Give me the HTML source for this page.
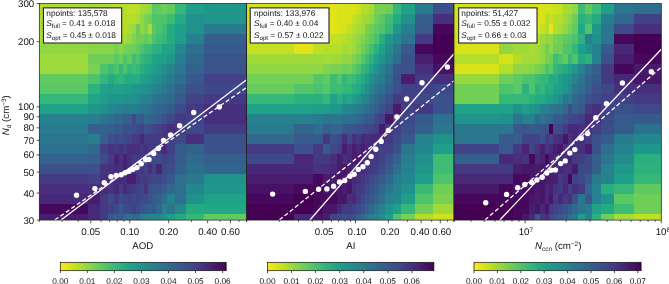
<!DOCTYPE html>
<html><head><meta charset="utf-8"><title>figure</title>
<style>html,body{margin:0;padding:0;background:#fff;overflow:hidden}svg{display:block}</style>
</head><body>
<svg width="669" height="284" viewBox="0 0 669 284" font-family="'Liberation Sans', sans-serif" font-size="9.7" fill="#111" text-rendering="geometricPrecision">
<defs><linearGradient id="vg" x1="0" x2="1" y1="0" y2="0">
<stop offset="0.00" stop-color="#fde725"/>
<stop offset="0.05" stop-color="#dfe318"/>
<stop offset="0.10" stop-color="#bddf26"/>
<stop offset="0.15" stop-color="#9bd93c"/>
<stop offset="0.20" stop-color="#7ad151"/>
<stop offset="0.25" stop-color="#5ec962"/>
<stop offset="0.30" stop-color="#44bf70"/>
<stop offset="0.35" stop-color="#2fb47c"/>
<stop offset="0.40" stop-color="#22a884"/>
<stop offset="0.45" stop-color="#1e9c89"/>
<stop offset="0.50" stop-color="#21918c"/>
<stop offset="0.55" stop-color="#25848e"/>
<stop offset="0.60" stop-color="#2a788e"/>
<stop offset="0.65" stop-color="#2f6c8e"/>
<stop offset="0.70" stop-color="#355f8d"/>
<stop offset="0.75" stop-color="#3b528b"/>
<stop offset="0.80" stop-color="#414487"/>
<stop offset="0.85" stop-color="#463480"/>
<stop offset="0.90" stop-color="#482475"/>
<stop offset="0.95" stop-color="#471365"/>
<stop offset="1.00" stop-color="#440154"/>
</linearGradient>
<clipPath id="cp0"><rect x="39.3" y="3.5" width="207.30" height="216.6"/></clipPath>
<clipPath id="cp1"><rect x="246.6" y="3.5" width="207.40" height="216.6"/></clipPath>
<clipPath id="cp2"><rect x="454.0" y="3.5" width="207.30" height="216.6"/></clipPath>
</defs>
<rect width="669" height="284" fill="#fff"/>
<g shape-rendering="crispEdges" clip-path="url(#cp0)"><rect x="39.3" y="3.3" width="48.5" height="10.8" fill="#addc30"/><rect x="87.5" y="3.3" width="12.8" height="10.8" fill="#a5db36"/><rect x="100" y="3.3" width="8.2" height="10.8" fill="#addc30"/><rect x="107.9" y="3.3" width="6.8" height="10.8" fill="#b5de2b"/><rect x="114.4" y="3.3" width="4.8" height="10.8" fill="#b5de2b"/><rect x="118.9" y="3.3" width="4.7" height="10.8" fill="#b5de2b"/><rect x="123.3" y="3.3" width="4.4" height="10.8" fill="#b5de2b"/><rect x="127.4" y="3.3" width="4.6" height="10.8" fill="#bddf26"/><rect x="131.7" y="3.3" width="4.5" height="10.8" fill="#bddf26"/><rect x="135.9" y="3.3" width="4.2" height="10.8" fill="#bddf26"/><rect x="139.8" y="3.3" width="4.3" height="10.8" fill="#a5db36"/><rect x="143.8" y="3.3" width="4.1" height="10.8" fill="#a0da39"/><rect x="147.6" y="3.3" width="4.4" height="10.8" fill="#90d743"/><rect x="151.7" y="3.3" width="5" height="10.8" fill="#5ac864"/><rect x="156.4" y="3.3" width="5.5" height="10.8" fill="#60ca60"/><rect x="161.6" y="3.3" width="6" height="10.8" fill="#6ece58"/><rect x="167.3" y="3.3" width="7.7" height="10.8" fill="#60ca60"/><rect x="174.7" y="3.3" width="11.6" height="10.8" fill="#35b779"/><rect x="186" y="3.3" width="18.6" height="10.8" fill="#1f9e89"/><rect x="204.3" y="3.3" width="42.6" height="10.8" fill="#1f988b"/><rect x="39.3" y="13.8" width="48.5" height="10.3" fill="#addc30"/><rect x="87.5" y="13.8" width="12.8" height="10.3" fill="#a5db36"/><rect x="100" y="13.8" width="8.2" height="10.3" fill="#addc30"/><rect x="107.9" y="13.8" width="6.8" height="10.3" fill="#b5de2b"/><rect x="114.4" y="13.8" width="4.8" height="10.3" fill="#b5de2b"/><rect x="118.9" y="13.8" width="4.7" height="10.3" fill="#b5de2b"/><rect x="123.3" y="13.8" width="4.4" height="10.3" fill="#b5de2b"/><rect x="127.4" y="13.8" width="4.6" height="10.3" fill="#b5de2b"/><rect x="131.7" y="13.8" width="4.5" height="10.3" fill="#b5de2b"/><rect x="135.9" y="13.8" width="4.2" height="10.3" fill="#addc30"/><rect x="139.8" y="13.8" width="4.3" height="10.3" fill="#90d743"/><rect x="143.8" y="13.8" width="4.1" height="10.3" fill="#7ad151"/><rect x="147.6" y="13.8" width="4.4" height="10.3" fill="#6ece58"/><rect x="151.7" y="13.8" width="5" height="10.3" fill="#4ec36b"/><rect x="156.4" y="13.8" width="5.5" height="10.3" fill="#4ec36b"/><rect x="161.6" y="13.8" width="6" height="10.3" fill="#4ec36b"/><rect x="167.3" y="13.8" width="7.7" height="10.3" fill="#3fbc73"/><rect x="174.7" y="13.8" width="11.6" height="10.3" fill="#25ab82"/><rect x="186" y="13.8" width="18.6" height="10.3" fill="#21918c"/><rect x="204.3" y="13.8" width="42.6" height="10.3" fill="#1f958b"/><rect x="39.3" y="23.8" width="48.5" height="10.3" fill="#addc30"/><rect x="87.5" y="23.8" width="12.8" height="10.3" fill="#a5db36"/><rect x="100" y="23.8" width="8.2" height="10.3" fill="#a5db36"/><rect x="107.9" y="23.8" width="6.8" height="10.3" fill="#addc30"/><rect x="114.4" y="23.8" width="4.8" height="10.3" fill="#addc30"/><rect x="118.9" y="23.8" width="4.7" height="10.3" fill="#b5de2b"/><rect x="123.3" y="23.8" width="4.4" height="10.3" fill="#b5de2b"/><rect x="127.4" y="23.8" width="4.6" height="10.3" fill="#a5db36"/><rect x="131.7" y="23.8" width="4.5" height="10.3" fill="#98d83e"/><rect x="135.9" y="23.8" width="4.2" height="10.3" fill="#67cc5c"/><rect x="139.8" y="23.8" width="4.3" height="10.3" fill="#90d743"/><rect x="143.8" y="23.8" width="4.1" height="10.3" fill="#7ad151"/><rect x="147.6" y="23.8" width="4.4" height="10.3" fill="#a5db36"/><rect x="151.7" y="23.8" width="5" height="10.3" fill="#5ac864"/><rect x="156.4" y="23.8" width="5.5" height="10.3" fill="#4ec36b"/><rect x="161.6" y="23.8" width="6" height="10.3" fill="#3fbc73"/><rect x="167.3" y="23.8" width="7.7" height="10.3" fill="#25ab82"/><rect x="174.7" y="23.8" width="11.6" height="10.3" fill="#1f9e89"/><rect x="186" y="23.8" width="18.6" height="10.3" fill="#21918c"/><rect x="204.3" y="23.8" width="42.6" height="10.3" fill="#297b8e"/><rect x="39.3" y="33.8" width="48.5" height="10.3" fill="#addc30"/><rect x="87.5" y="33.8" width="12.8" height="10.3" fill="#a0da39"/><rect x="100" y="33.8" width="8.2" height="10.3" fill="#a0da39"/><rect x="107.9" y="33.8" width="6.8" height="10.3" fill="#a5db36"/><rect x="114.4" y="33.8" width="4.8" height="10.3" fill="#a5db36"/><rect x="118.9" y="33.8" width="4.7" height="10.3" fill="#a5db36"/><rect x="123.3" y="33.8" width="4.4" height="10.3" fill="#a5db36"/><rect x="127.4" y="33.8" width="4.6" height="10.3" fill="#98d83e"/><rect x="131.7" y="33.8" width="4.5" height="10.3" fill="#81d34d"/><rect x="135.9" y="33.8" width="4.2" height="10.3" fill="#6ece58"/><rect x="139.8" y="33.8" width="4.3" height="10.3" fill="#6ece58"/><rect x="143.8" y="33.8" width="4.1" height="10.3" fill="#60ca60"/><rect x="147.6" y="33.8" width="4.4" height="10.3" fill="#6ece58"/><rect x="151.7" y="33.8" width="5" height="10.3" fill="#4ec36b"/><rect x="156.4" y="33.8" width="5.5" height="10.3" fill="#3fbc73"/><rect x="161.6" y="33.8" width="6" height="10.3" fill="#35b779"/><rect x="167.3" y="33.8" width="7.7" height="10.3" fill="#25ab82"/><rect x="174.7" y="33.8" width="11.6" height="10.3" fill="#1f9e89"/><rect x="186" y="33.8" width="18.6" height="10.3" fill="#26828e"/><rect x="204.3" y="33.8" width="42.6" height="10.3" fill="#355f8d"/><rect x="39.3" y="43.8" width="48.5" height="10.3" fill="#90d743"/><rect x="87.5" y="43.8" width="12.8" height="10.3" fill="#89d548"/><rect x="100" y="43.8" width="8.2" height="10.3" fill="#89d548"/><rect x="107.9" y="43.8" width="6.8" height="10.3" fill="#89d548"/><rect x="114.4" y="43.8" width="4.8" height="10.3" fill="#7ad151"/><rect x="118.9" y="43.8" width="4.7" height="10.3" fill="#89d548"/><rect x="123.3" y="43.8" width="4.4" height="10.3" fill="#7ad151"/><rect x="127.4" y="43.8" width="4.6" height="10.3" fill="#6ece58"/><rect x="131.7" y="43.8" width="4.5" height="10.3" fill="#6ece58"/><rect x="135.9" y="43.8" width="4.2" height="10.3" fill="#60ca60"/><rect x="139.8" y="43.8" width="4.3" height="10.3" fill="#4ec36b"/><rect x="143.8" y="43.8" width="4.1" height="10.3" fill="#3fbc73"/><rect x="147.6" y="43.8" width="4.4" height="10.3" fill="#3aba76"/><rect x="151.7" y="43.8" width="5" height="10.3" fill="#2db27d"/><rect x="156.4" y="43.8" width="5.5" height="10.3" fill="#2ab07f"/><rect x="161.6" y="43.8" width="6" height="10.3" fill="#1fa287"/><rect x="167.3" y="43.8" width="7.7" height="10.3" fill="#1fa287"/><rect x="174.7" y="43.8" width="11.6" height="10.3" fill="#23888e"/><rect x="186" y="43.8" width="18.6" height="10.3" fill="#2e6e8e"/><rect x="204.3" y="43.8" width="42.6" height="10.3" fill="#375a8c"/><rect x="39.3" y="53.8" width="48.5" height="10.3" fill="#9bd93c"/><rect x="87.5" y="53.8" width="12.8" height="10.3" fill="#6ece58"/><rect x="100" y="53.8" width="8.2" height="10.3" fill="#6ece58"/><rect x="107.9" y="53.8" width="6.8" height="10.3" fill="#6ece58"/><rect x="114.4" y="53.8" width="4.8" height="10.3" fill="#5ac864"/><rect x="118.9" y="53.8" width="4.7" height="10.3" fill="#6ece58"/><rect x="123.3" y="53.8" width="4.4" height="10.3" fill="#4ec36b"/><rect x="127.4" y="53.8" width="4.6" height="10.3" fill="#60ca60"/><rect x="131.7" y="53.8" width="4.5" height="10.3" fill="#3fbc73"/><rect x="135.9" y="53.8" width="4.2" height="10.3" fill="#4ec36b"/><rect x="139.8" y="53.8" width="4.3" height="10.3" fill="#35b779"/><rect x="143.8" y="53.8" width="4.1" height="10.3" fill="#2db27d"/><rect x="147.6" y="53.8" width="4.4" height="10.3" fill="#2ab07f"/><rect x="151.7" y="53.8" width="5" height="10.3" fill="#21a585"/><rect x="156.4" y="53.8" width="5.5" height="10.3" fill="#1fa188"/><rect x="161.6" y="53.8" width="6" height="10.3" fill="#1f9e89"/><rect x="167.3" y="53.8" width="7.7" height="10.3" fill="#1f958b"/><rect x="174.7" y="53.8" width="11.6" height="10.3" fill="#277e8e"/><rect x="186" y="53.8" width="18.6" height="10.3" fill="#31688e"/><rect x="204.3" y="53.8" width="42.6" height="10.3" fill="#3a538b"/><rect x="39.3" y="63.8" width="48.5" height="10.3" fill="#9bd93c"/><rect x="87.5" y="63.8" width="12.8" height="10.3" fill="#7ad151"/><rect x="100" y="63.8" width="8.2" height="10.3" fill="#4ec36b"/><rect x="107.9" y="63.8" width="6.8" height="10.3" fill="#3fbc73"/><rect x="114.4" y="63.8" width="4.8" height="10.3" fill="#4ec36b"/><rect x="118.9" y="63.8" width="4.7" height="10.3" fill="#35b779"/><rect x="123.3" y="63.8" width="4.4" height="10.3" fill="#4ec36b"/><rect x="127.4" y="63.8" width="4.6" height="10.3" fill="#35b779"/><rect x="131.7" y="63.8" width="4.5" height="10.3" fill="#3fbc73"/><rect x="135.9" y="63.8" width="4.2" height="10.3" fill="#35b779"/><rect x="139.8" y="63.8" width="4.3" height="10.3" fill="#2ab07f"/><rect x="143.8" y="63.8" width="4.1" height="10.3" fill="#22a884"/><rect x="147.6" y="63.8" width="4.4" height="10.3" fill="#21a585"/><rect x="151.7" y="63.8" width="5" height="10.3" fill="#1f9e89"/><rect x="156.4" y="63.8" width="5.5" height="10.3" fill="#1f988b"/><rect x="161.6" y="63.8" width="6" height="10.3" fill="#21918c"/><rect x="167.3" y="63.8" width="7.7" height="10.3" fill="#26828e"/><rect x="174.7" y="63.8" width="11.6" height="10.3" fill="#2b758e"/><rect x="186" y="63.8" width="18.6" height="10.3" fill="#33628d"/><rect x="204.3" y="63.8" width="42.6" height="10.3" fill="#3a538b"/><rect x="39.3" y="73.8" width="48.5" height="10.3" fill="#60ca60"/><rect x="87.5" y="73.8" width="12.8" height="10.3" fill="#4ec36b"/><rect x="100" y="73.8" width="8.2" height="10.3" fill="#35b779"/><rect x="107.9" y="73.8" width="6.8" height="10.3" fill="#25ab82"/><rect x="114.4" y="73.8" width="4.8" height="10.3" fill="#2db27d"/><rect x="118.9" y="73.8" width="4.7" height="10.3" fill="#35b779"/><rect x="123.3" y="73.8" width="4.4" height="10.3" fill="#2ab07f"/><rect x="127.4" y="73.8" width="4.6" height="10.3" fill="#25ab82"/><rect x="131.7" y="73.8" width="4.5" height="10.3" fill="#25ab82"/><rect x="135.9" y="73.8" width="4.2" height="10.3" fill="#25ab82"/><rect x="139.8" y="73.8" width="4.3" height="10.3" fill="#1fa287"/><rect x="143.8" y="73.8" width="4.1" height="10.3" fill="#1f9e89"/><rect x="147.6" y="73.8" width="4.4" height="10.3" fill="#1e9b8a"/><rect x="151.7" y="73.8" width="5" height="10.3" fill="#21918c"/><rect x="156.4" y="73.8" width="5.5" height="10.3" fill="#218e8d"/><rect x="161.6" y="73.8" width="6" height="10.3" fill="#26828e"/><rect x="167.3" y="73.8" width="7.7" height="10.3" fill="#297b8e"/><rect x="174.7" y="73.8" width="11.6" height="10.3" fill="#2e6e8e"/><rect x="186" y="73.8" width="18.6" height="10.3" fill="#375a8c"/><rect x="204.3" y="73.8" width="42.6" height="10.3" fill="#424086"/><rect x="39.3" y="83.8" width="48.5" height="10.3" fill="#5ac864"/><rect x="87.5" y="83.8" width="12.8" height="10.3" fill="#2db27d"/><rect x="100" y="83.8" width="8.2" height="10.3" fill="#1fa287"/><rect x="107.9" y="83.8" width="6.8" height="10.3" fill="#1f9e89"/><rect x="114.4" y="83.8" width="4.8" height="10.3" fill="#1fa287"/><rect x="118.9" y="83.8" width="4.7" height="10.3" fill="#1fa287"/><rect x="123.3" y="83.8" width="4.4" height="10.3" fill="#1f9e89"/><rect x="127.4" y="83.8" width="4.6" height="10.3" fill="#1f9e89"/><rect x="131.7" y="83.8" width="4.5" height="10.3" fill="#1f988b"/><rect x="135.9" y="83.8" width="4.2" height="10.3" fill="#1f988b"/><rect x="139.8" y="83.8" width="4.3" height="10.3" fill="#21918c"/><rect x="143.8" y="83.8" width="4.1" height="10.3" fill="#21918c"/><rect x="147.6" y="83.8" width="4.4" height="10.3" fill="#218e8d"/><rect x="151.7" y="83.8" width="5" height="10.3" fill="#26828e"/><rect x="156.4" y="83.8" width="5.5" height="10.3" fill="#27808e"/><rect x="161.6" y="83.8" width="6" height="10.3" fill="#297b8e"/><rect x="167.3" y="83.8" width="7.7" height="10.3" fill="#2e6e8e"/><rect x="174.7" y="83.8" width="11.6" height="10.3" fill="#33628d"/><rect x="186" y="83.8" width="18.6" height="10.3" fill="#3c508b"/><rect x="204.3" y="83.8" width="42.6" height="10.3" fill="#3e4989"/><rect x="39.3" y="93.8" width="48.5" height="10.3" fill="#35b779"/><rect x="87.5" y="93.8" width="12.8" height="10.3" fill="#21a585"/><rect x="100" y="93.8" width="8.2" height="10.3" fill="#1f9e89"/><rect x="107.9" y="93.8" width="6.8" height="10.3" fill="#1f958b"/><rect x="114.4" y="93.8" width="4.8" height="10.3" fill="#1f958b"/><rect x="118.9" y="93.8" width="4.7" height="10.3" fill="#1f958b"/><rect x="123.3" y="93.8" width="4.4" height="10.3" fill="#21918c"/><rect x="127.4" y="93.8" width="4.6" height="10.3" fill="#21918c"/><rect x="131.7" y="93.8" width="4.5" height="10.3" fill="#21918c"/><rect x="135.9" y="93.8" width="4.2" height="10.3" fill="#218e8d"/><rect x="139.8" y="93.8" width="4.3" height="10.3" fill="#26828e"/><rect x="143.8" y="93.8" width="4.1" height="10.3" fill="#26828e"/><rect x="147.6" y="93.8" width="4.4" height="10.3" fill="#27808e"/><rect x="151.7" y="93.8" width="5" height="10.3" fill="#2b758e"/><rect x="156.4" y="93.8" width="5.5" height="10.3" fill="#2c728e"/><rect x="161.6" y="93.8" width="6" height="10.3" fill="#2e6e8e"/><rect x="167.3" y="93.8" width="7.7" height="10.3" fill="#31688e"/><rect x="174.7" y="93.8" width="11.6" height="10.3" fill="#375a8c"/><rect x="186" y="93.8" width="18.6" height="10.3" fill="#414487"/><rect x="204.3" y="93.8" width="42.6" height="10.3" fill="#443983"/><rect x="39.3" y="103.8" width="48.5" height="10.3" fill="#1fa287"/><rect x="87.5" y="103.8" width="12.8" height="10.3" fill="#1f988b"/><rect x="100" y="103.8" width="8.2" height="10.3" fill="#21918c"/><rect x="107.9" y="103.8" width="6.8" height="10.3" fill="#23888e"/><rect x="114.4" y="103.8" width="4.8" height="10.3" fill="#26828e"/><rect x="118.9" y="103.8" width="4.7" height="10.3" fill="#26828e"/><rect x="123.3" y="103.8" width="4.4" height="10.3" fill="#277e8e"/><rect x="127.4" y="103.8" width="4.6" height="10.3" fill="#277e8e"/><rect x="131.7" y="103.8" width="4.5" height="10.3" fill="#277e8e"/><rect x="135.9" y="103.8" width="4.2" height="10.3" fill="#297b8e"/><rect x="139.8" y="103.8" width="4.3" height="10.3" fill="#2b758e"/><rect x="143.8" y="103.8" width="4.1" height="10.3" fill="#2b758e"/><rect x="147.6" y="103.8" width="4.4" height="10.3" fill="#2c728e"/><rect x="151.7" y="103.8" width="5" height="10.3" fill="#31688e"/><rect x="156.4" y="103.8" width="5.5" height="10.3" fill="#32658e"/><rect x="161.6" y="103.8" width="6" height="10.3" fill="#33628d"/><rect x="167.3" y="103.8" width="7.7" height="10.3" fill="#375a8c"/><rect x="174.7" y="103.8" width="11.6" height="10.3" fill="#3e4989"/><rect x="186" y="103.8" width="18.6" height="10.3" fill="#443983"/><rect x="204.3" y="103.8" width="42.6" height="10.3" fill="#472f7d"/><rect x="39.3" y="113.8" width="48.5" height="10.3" fill="#26828e"/><rect x="87.5" y="113.8" width="12.8" height="10.3" fill="#277e8e"/><rect x="100" y="113.8" width="8.2" height="10.3" fill="#2b758e"/><rect x="107.9" y="113.8" width="6.8" height="10.3" fill="#2e6e8e"/><rect x="114.4" y="113.8" width="4.8" height="10.3" fill="#31688e"/><rect x="118.9" y="113.8" width="4.7" height="10.3" fill="#31688e"/><rect x="123.3" y="113.8" width="4.4" height="10.3" fill="#355f8d"/><rect x="127.4" y="113.8" width="4.6" height="10.3" fill="#355f8d"/><rect x="131.7" y="113.8" width="4.5" height="10.3" fill="#3e4989"/><rect x="135.9" y="113.8" width="4.2" height="10.3" fill="#355f8d"/><rect x="139.8" y="113.8" width="4.3" height="10.3" fill="#375a8c"/><rect x="143.8" y="113.8" width="4.1" height="10.3" fill="#31688e"/><rect x="147.6" y="113.8" width="4.4" height="10.3" fill="#32658e"/><rect x="151.7" y="113.8" width="5" height="10.3" fill="#355f8d"/><rect x="156.4" y="113.8" width="5.5" height="10.3" fill="#365c8d"/><rect x="161.6" y="113.8" width="6" height="10.3" fill="#3c508b"/><rect x="167.3" y="113.8" width="7.7" height="10.3" fill="#3e4989"/><rect x="174.7" y="113.8" width="11.6" height="10.3" fill="#443983"/><rect x="186" y="113.8" width="18.6" height="10.3" fill="#424086"/><rect x="204.3" y="113.8" width="42.6" height="10.3" fill="#472f7d"/><rect x="39.3" y="123.8" width="48.5" height="10.3" fill="#297b8e"/><rect x="87.5" y="123.8" width="12.8" height="10.3" fill="#355f8d"/><rect x="100" y="123.8" width="8.2" height="10.3" fill="#33628d"/><rect x="107.9" y="123.8" width="6.8" height="10.3" fill="#355f8d"/><rect x="114.4" y="123.8" width="4.8" height="10.3" fill="#375a8c"/><rect x="118.9" y="123.8" width="4.7" height="10.3" fill="#375a8c"/><rect x="123.3" y="123.8" width="4.4" height="10.3" fill="#3c508b"/><rect x="127.4" y="123.8" width="4.6" height="10.3" fill="#3c508b"/><rect x="131.7" y="123.8" width="4.5" height="10.3" fill="#3c508b"/><rect x="135.9" y="123.8" width="4.2" height="10.3" fill="#3e4989"/><rect x="139.8" y="123.8" width="4.3" height="10.3" fill="#414487"/><rect x="143.8" y="123.8" width="4.1" height="10.3" fill="#3c508b"/><rect x="147.6" y="123.8" width="4.4" height="10.3" fill="#3d4d8a"/><rect x="151.7" y="123.8" width="5" height="10.3" fill="#414487"/><rect x="156.4" y="123.8" width="5.5" height="10.3" fill="#424086"/><rect x="161.6" y="123.8" width="6" height="10.3" fill="#443983"/><rect x="167.3" y="123.8" width="7.7" height="10.3" fill="#472f7d"/><rect x="174.7" y="123.8" width="11.6" height="10.3" fill="#443983"/><rect x="186" y="123.8" width="18.6" height="10.3" fill="#3e4989"/><rect x="204.3" y="123.8" width="42.6" height="10.3" fill="#443983"/><rect x="39.3" y="133.8" width="48.5" height="10.3" fill="#2b758e"/><rect x="87.5" y="133.8" width="12.8" height="10.3" fill="#277e8e"/><rect x="100" y="133.8" width="8.2" height="10.3" fill="#355f8d"/><rect x="107.9" y="133.8" width="6.8" height="10.3" fill="#3c508b"/><rect x="114.4" y="133.8" width="4.8" height="10.3" fill="#3e4989"/><rect x="118.9" y="133.8" width="4.7" height="10.3" fill="#3c508b"/><rect x="123.3" y="133.8" width="4.4" height="10.3" fill="#3e4989"/><rect x="127.4" y="133.8" width="4.6" height="10.3" fill="#414487"/><rect x="131.7" y="133.8" width="4.5" height="10.3" fill="#443983"/><rect x="135.9" y="133.8" width="4.2" height="10.3" fill="#443983"/><rect x="139.8" y="133.8" width="4.3" height="10.3" fill="#482878"/><rect x="143.8" y="133.8" width="4.1" height="10.3" fill="#443983"/><rect x="147.6" y="133.8" width="4.4" height="10.3" fill="#443983"/><rect x="151.7" y="133.8" width="5" height="10.3" fill="#443983"/><rect x="156.4" y="133.8" width="5.5" height="10.3" fill="#443983"/><rect x="161.6" y="133.8" width="6" height="10.3" fill="#443983"/><rect x="167.3" y="133.8" width="7.7" height="10.3" fill="#424086"/><rect x="174.7" y="133.8" width="11.6" height="10.3" fill="#3e4989"/><rect x="186" y="133.8" width="18.6" height="10.3" fill="#472f7d"/><rect x="204.3" y="133.8" width="42.6" height="10.3" fill="#3c508b"/><rect x="39.3" y="143.8" width="48.5" height="10.3" fill="#2c728e"/><rect x="87.5" y="143.8" width="12.8" height="10.3" fill="#31688e"/><rect x="100" y="143.8" width="8.2" height="10.3" fill="#424086"/><rect x="107.9" y="143.8" width="6.8" height="10.3" fill="#46327e"/><rect x="114.4" y="143.8" width="4.8" height="10.3" fill="#443983"/><rect x="118.9" y="143.8" width="4.7" height="10.3" fill="#472f7d"/><rect x="123.3" y="143.8" width="4.4" height="10.3" fill="#443983"/><rect x="127.4" y="143.8" width="4.6" height="10.3" fill="#472f7d"/><rect x="131.7" y="143.8" width="4.5" height="10.3" fill="#472f7d"/><rect x="135.9" y="143.8" width="4.2" height="10.3" fill="#472f7d"/><rect x="139.8" y="143.8" width="4.3" height="10.3" fill="#443983"/><rect x="143.8" y="143.8" width="4.1" height="10.3" fill="#472f7d"/><rect x="147.6" y="143.8" width="4.4" height="10.3" fill="#443983"/><rect x="151.7" y="143.8" width="5" height="10.3" fill="#443983"/><rect x="156.4" y="143.8" width="5.5" height="10.3" fill="#443983"/><rect x="161.6" y="143.8" width="6" height="10.3" fill="#482878"/><rect x="167.3" y="143.8" width="7.7" height="10.3" fill="#424086"/><rect x="174.7" y="143.8" width="11.6" height="10.3" fill="#375a8c"/><rect x="186" y="143.8" width="18.6" height="10.3" fill="#33628d"/><rect x="204.3" y="143.8" width="42.6" height="10.3" fill="#3c508b"/><rect x="39.3" y="153.8" width="48.5" height="10.3" fill="#33628d"/><rect x="87.5" y="153.8" width="12.8" height="10.3" fill="#355f8d"/><rect x="100" y="153.8" width="8.2" height="10.3" fill="#3d4d8a"/><rect x="107.9" y="153.8" width="6.8" height="10.3" fill="#443983"/><rect x="114.4" y="153.8" width="4.8" height="10.3" fill="#482071"/><rect x="118.9" y="153.8" width="4.7" height="10.3" fill="#46327e"/><rect x="123.3" y="153.8" width="4.4" height="10.3" fill="#482071"/><rect x="127.4" y="153.8" width="4.6" height="10.3" fill="#472f7d"/><rect x="131.7" y="153.8" width="4.5" height="10.3" fill="#443983"/><rect x="135.9" y="153.8" width="4.2" height="10.3" fill="#443983"/><rect x="139.8" y="153.8" width="4.3" height="10.3" fill="#443983"/><rect x="143.8" y="153.8" width="4.1" height="10.3" fill="#424086"/><rect x="147.6" y="153.8" width="4.4" height="10.3" fill="#424086"/><rect x="151.7" y="153.8" width="5" height="10.3" fill="#3e4989"/><rect x="156.4" y="153.8" width="5.5" height="10.3" fill="#3e4989"/><rect x="161.6" y="153.8" width="6" height="10.3" fill="#424086"/><rect x="167.3" y="153.8" width="7.7" height="10.3" fill="#3e4989"/><rect x="174.7" y="153.8" width="11.6" height="10.3" fill="#365c8d"/><rect x="186" y="153.8" width="18.6" height="10.3" fill="#31688e"/><rect x="204.3" y="153.8" width="42.6" height="10.3" fill="#355f8d"/><rect x="39.3" y="163.8" width="48.5" height="10.3" fill="#3c508b"/><rect x="87.5" y="163.8" width="12.8" height="10.3" fill="#3c508b"/><rect x="100" y="163.8" width="8.2" height="10.3" fill="#453581"/><rect x="107.9" y="163.8" width="6.8" height="10.3" fill="#46327e"/><rect x="114.4" y="163.8" width="4.8" height="10.3" fill="#472c7a"/><rect x="118.9" y="163.8" width="4.7" height="10.3" fill="#46327e"/><rect x="123.3" y="163.8" width="4.4" height="10.3" fill="#482071"/><rect x="127.4" y="163.8" width="4.6" height="10.3" fill="#472c7a"/><rect x="131.7" y="163.8" width="4.5" height="10.3" fill="#472f7d"/><rect x="135.9" y="163.8" width="4.2" height="10.3" fill="#443983"/><rect x="139.8" y="163.8" width="4.3" height="10.3" fill="#443983"/><rect x="143.8" y="163.8" width="4.1" height="10.3" fill="#424086"/><rect x="147.6" y="163.8" width="4.4" height="10.3" fill="#472f7d"/><rect x="151.7" y="163.8" width="5" height="10.3" fill="#424086"/><rect x="156.4" y="163.8" width="5.5" height="10.3" fill="#482475"/><rect x="161.6" y="163.8" width="6" height="10.3" fill="#3f4788"/><rect x="167.3" y="163.8" width="7.7" height="10.3" fill="#3d4d8a"/><rect x="174.7" y="163.8" width="11.6" height="10.3" fill="#355f8d"/><rect x="186" y="163.8" width="18.6" height="10.3" fill="#2d708e"/><rect x="204.3" y="163.8" width="42.6" height="10.3" fill="#32658e"/><rect x="39.3" y="173.8" width="48.5" height="10.3" fill="#443983"/><rect x="87.5" y="173.8" width="12.8" height="10.3" fill="#424086"/><rect x="100" y="173.8" width="8.2" height="10.3" fill="#472f7d"/><rect x="107.9" y="173.8" width="6.8" height="10.3" fill="#472f7d"/><rect x="114.4" y="173.8" width="4.8" height="10.3" fill="#482878"/><rect x="118.9" y="173.8" width="4.7" height="10.3" fill="#482878"/><rect x="123.3" y="173.8" width="4.4" height="10.3" fill="#472f7d"/><rect x="127.4" y="173.8" width="4.6" height="10.3" fill="#481c6e"/><rect x="131.7" y="173.8" width="4.5" height="10.3" fill="#481c6e"/><rect x="135.9" y="173.8" width="4.2" height="10.3" fill="#46327e"/><rect x="139.8" y="173.8" width="4.3" height="10.3" fill="#433d84"/><rect x="143.8" y="173.8" width="4.1" height="10.3" fill="#443983"/><rect x="147.6" y="173.8" width="4.4" height="10.3" fill="#424086"/><rect x="151.7" y="173.8" width="5" height="10.3" fill="#3f4788"/><rect x="156.4" y="173.8" width="5.5" height="10.3" fill="#3f4788"/><rect x="161.6" y="173.8" width="6" height="10.3" fill="#3d4d8a"/><rect x="167.3" y="173.8" width="7.7" height="10.3" fill="#375a8c"/><rect x="174.7" y="173.8" width="11.6" height="10.3" fill="#2e6e8e"/><rect x="186" y="173.8" width="18.6" height="10.3" fill="#2a788e"/><rect x="204.3" y="173.8" width="42.6" height="10.3" fill="#21918c"/><rect x="39.3" y="183.8" width="48.5" height="10.3" fill="#472f7d"/><rect x="87.5" y="183.8" width="12.8" height="10.3" fill="#472f7d"/><rect x="100" y="183.8" width="8.2" height="10.3" fill="#472c7a"/><rect x="107.9" y="183.8" width="6.8" height="10.3" fill="#46327e"/><rect x="114.4" y="183.8" width="4.8" height="10.3" fill="#482878"/><rect x="118.9" y="183.8" width="4.7" height="10.3" fill="#433d84"/><rect x="123.3" y="183.8" width="4.4" height="10.3" fill="#482878"/><rect x="127.4" y="183.8" width="4.6" height="10.3" fill="#453581"/><rect x="131.7" y="183.8" width="4.5" height="10.3" fill="#443983"/><rect x="135.9" y="183.8" width="4.2" height="10.3" fill="#424086"/><rect x="139.8" y="183.8" width="4.3" height="10.3" fill="#414487"/><rect x="143.8" y="183.8" width="4.1" height="10.3" fill="#46327e"/><rect x="147.6" y="183.8" width="4.4" height="10.3" fill="#3d4d8a"/><rect x="151.7" y="183.8" width="5" height="10.3" fill="#3a538b"/><rect x="156.4" y="183.8" width="5.5" height="10.3" fill="#3a538b"/><rect x="161.6" y="183.8" width="6" height="10.3" fill="#365c8d"/><rect x="167.3" y="183.8" width="7.7" height="10.3" fill="#31688e"/><rect x="174.7" y="183.8" width="11.6" height="10.3" fill="#2e6e8e"/><rect x="186" y="183.8" width="18.6" height="10.3" fill="#23888e"/><rect x="204.3" y="183.8" width="42.6" height="10.3" fill="#1f958b"/><rect x="39.3" y="193.8" width="48.5" height="10.3" fill="#482878"/><rect x="87.5" y="193.8" width="12.8" height="10.3" fill="#481c6e"/><rect x="100" y="193.8" width="8.2" height="10.3" fill="#443983"/><rect x="107.9" y="193.8" width="6.8" height="10.3" fill="#3e4989"/><rect x="114.4" y="193.8" width="4.8" height="10.3" fill="#443983"/><rect x="118.9" y="193.8" width="4.7" height="10.3" fill="#3e4989"/><rect x="123.3" y="193.8" width="4.4" height="10.3" fill="#424086"/><rect x="127.4" y="193.8" width="4.6" height="10.3" fill="#424086"/><rect x="131.7" y="193.8" width="4.5" height="10.3" fill="#3e4989"/><rect x="135.9" y="193.8" width="4.2" height="10.3" fill="#424086"/><rect x="139.8" y="193.8" width="4.3" height="10.3" fill="#3e4989"/><rect x="143.8" y="193.8" width="4.1" height="10.3" fill="#3e4989"/><rect x="147.6" y="193.8" width="4.4" height="10.3" fill="#3c508b"/><rect x="151.7" y="193.8" width="5" height="10.3" fill="#375a8c"/><rect x="156.4" y="193.8" width="5.5" height="10.3" fill="#355f8d"/><rect x="161.6" y="193.8" width="6" height="10.3" fill="#2e6e8e"/><rect x="167.3" y="193.8" width="7.7" height="10.3" fill="#26828e"/><rect x="174.7" y="193.8" width="11.6" height="10.3" fill="#2e6e8e"/><rect x="186" y="193.8" width="18.6" height="10.3" fill="#21918c"/><rect x="204.3" y="193.8" width="42.6" height="10.3" fill="#1fa287"/><rect x="39.3" y="203.8" width="48.5" height="10.3" fill="#46085c"/><rect x="87.5" y="203.8" width="12.8" height="10.3" fill="#482878"/><rect x="100" y="203.8" width="8.2" height="10.3" fill="#443983"/><rect x="107.9" y="203.8" width="6.8" height="10.3" fill="#424086"/><rect x="114.4" y="203.8" width="4.8" height="10.3" fill="#3e4989"/><rect x="118.9" y="203.8" width="4.7" height="10.3" fill="#375a8c"/><rect x="123.3" y="203.8" width="4.4" height="10.3" fill="#3e4989"/><rect x="127.4" y="203.8" width="4.6" height="10.3" fill="#3e4989"/><rect x="131.7" y="203.8" width="4.5" height="10.3" fill="#424086"/><rect x="135.9" y="203.8" width="4.2" height="10.3" fill="#3e4989"/><rect x="139.8" y="203.8" width="4.3" height="10.3" fill="#3c508b"/><rect x="143.8" y="203.8" width="4.1" height="10.3" fill="#375a8c"/><rect x="147.6" y="203.8" width="4.4" height="10.3" fill="#355f8d"/><rect x="151.7" y="203.8" width="5" height="10.3" fill="#375a8c"/><rect x="156.4" y="203.8" width="5.5" height="10.3" fill="#31688e"/><rect x="161.6" y="203.8" width="6" height="10.3" fill="#26828e"/><rect x="167.3" y="203.8" width="7.7" height="10.3" fill="#2b758e"/><rect x="174.7" y="203.8" width="11.6" height="10.3" fill="#23888e"/><rect x="186" y="203.8" width="18.6" height="10.3" fill="#25ab82"/><rect x="204.3" y="203.8" width="42.6" height="10.3" fill="#22a884"/><rect x="39.3" y="213.8" width="48.5" height="6.9" fill="#481c6e"/><rect x="87.5" y="213.8" width="12.8" height="6.9" fill="#482878"/><rect x="100" y="213.8" width="8.2" height="6.9" fill="#443983"/><rect x="107.9" y="213.8" width="6.8" height="6.9" fill="#375a8c"/><rect x="114.4" y="213.8" width="4.8" height="6.9" fill="#355f8d"/><rect x="118.9" y="213.8" width="4.7" height="6.9" fill="#375a8c"/><rect x="123.3" y="213.8" width="4.4" height="6.9" fill="#31688e"/><rect x="127.4" y="213.8" width="4.6" height="6.9" fill="#2e6e8e"/><rect x="131.7" y="213.8" width="4.5" height="6.9" fill="#31688e"/><rect x="135.9" y="213.8" width="4.2" height="6.9" fill="#31688e"/><rect x="139.8" y="213.8" width="4.3" height="6.9" fill="#297b8e"/><rect x="143.8" y="213.8" width="4.1" height="6.9" fill="#26828e"/><rect x="147.6" y="213.8" width="4.4" height="6.9" fill="#23888e"/><rect x="151.7" y="213.8" width="5" height="6.9" fill="#23888e"/><rect x="156.4" y="213.8" width="5.5" height="6.9" fill="#23888e"/><rect x="161.6" y="213.8" width="6" height="6.9" fill="#21918c"/><rect x="167.3" y="213.8" width="7.7" height="6.9" fill="#1f9e89"/><rect x="174.7" y="213.8" width="11.6" height="6.9" fill="#25ab82"/><rect x="186" y="213.8" width="18.6" height="6.9" fill="#35b779"/><rect x="204.3" y="213.8" width="42.6" height="6.9" fill="#60ca60"/></g>
<g clip-path="url(#cp0)" stroke="#fff" stroke-width="1.3" fill="none">
<line x1="61.0" y1="220" x2="246.6" y2="79.7"/>
<line x1="54.8" y1="220" x2="246.6" y2="87.5" stroke-dasharray="4.3 2.4"/>
</g>
<g fill="#fff"><circle cx="76.5" cy="195.2" r="2.7"/><circle cx="94.9" cy="188.6" r="2.7"/><circle cx="104.2" cy="182.8" r="2.7"/><circle cx="111" cy="176.7" r="2.7"/><circle cx="116.2" cy="175.4" r="2.7"/><circle cx="121.2" cy="174.8" r="2.7"/><circle cx="125.1" cy="172.8" r="2.7"/><circle cx="129.1" cy="171.2" r="2.7"/><circle cx="133" cy="169.2" r="2.7"/><circle cx="137" cy="167.6" r="2.7"/><circle cx="141.2" cy="163.8" r="2.7"/><circle cx="145.6" cy="159.7" r="2.7"/><circle cx="149" cy="159.4" r="2.7"/><circle cx="153.7" cy="153.5" r="2.7"/><circle cx="158.3" cy="148.5" r="2.7"/><circle cx="163.5" cy="140.5" r="2.7"/><circle cx="170.6" cy="134.9" r="2.7"/><circle cx="179.6" cy="125.8" r="2.7"/><circle cx="193.7" cy="112.5" r="2.7"/><circle cx="219.3" cy="107" r="2.7"/></g>
<rect x="39.3" y="3.5" width="207.30" height="216.6" fill="none" stroke="#1a1a1a" stroke-width="0.7"/>
<g stroke="#111" stroke-width="0.7"><line x1="90.79" y1="220.1" x2="90.79" y2="223.29999999999998"/><line x1="129.75" y1="220.1" x2="129.75" y2="223.29999999999998"/><line x1="168.7" y1="220.1" x2="168.7" y2="223.29999999999998"/><line x1="207.65" y1="220.1" x2="207.65" y2="223.29999999999998"/><line x1="230.44" y1="220.1" x2="230.44" y2="223.29999999999998"/><line x1="39.3" y1="220.1" x2="39.3" y2="221.9"/><line x1="62.09" y1="220.1" x2="62.09" y2="221.9"/><line x1="78.25" y1="220.1" x2="78.25" y2="221.9"/><line x1="101.04" y1="220.1" x2="101.04" y2="221.9"/><line x1="109.7" y1="220.1" x2="109.7" y2="221.9"/><line x1="117.21" y1="220.1" x2="117.21" y2="221.9"/><line x1="123.83" y1="220.1" x2="123.83" y2="221.9"/><line x1="191.49" y1="220.1" x2="191.49" y2="221.9"/><line x1="220.19" y1="220.1" x2="220.19" y2="221.9"/><line x1="239.1" y1="220.1" x2="239.1" y2="221.9"/><line x1="246.61" y1="220.1" x2="246.61" y2="221.9"/></g>
<text x="90.79" y="235.2" text-anchor="middle">0.05</text>
<text x="129.75" y="235.2" text-anchor="middle">0.10</text>
<text x="168.7" y="235.2" text-anchor="middle">0.20</text>
<text x="207.65" y="235.2" text-anchor="middle">0.40</text>
<text x="230.44" y="235.2" text-anchor="middle">0.60</text>
<text x="142.8" y="249.4" text-anchor="middle">AOD</text>
<rect x="43.4" y="7.9" width="78.3" height="35.1" fill="#fff" stroke="#111" stroke-width="1"/>
<text font-size="8.3" x="46.3" y="15.6">npoints: 135,578</text><text font-size="8.3" x="46.3" y="26.0"><tspan font-style="italic">S</tspan><tspan font-size="6.2" dy="1.9">full</tspan><tspan dy="-1.9"> = 0.41 ± 0.018</tspan></text><text font-size="8.3" x="46.3" y="37.7"><tspan font-style="italic">S</tspan><tspan font-size="6.2" dy="1.9">opt</tspan><tspan dy="-1.9"> = 0.45 ± 0.018</tspan></text>
<rect x="60.3" y="262.3" width="165.90" height="8.4" fill="url(#vg)" stroke="#111" stroke-width="0.7"/>
<line x1="60.3" y1="270.7" x2="60.3" y2="273.2" stroke="#111" stroke-width="0.7"/><text x="60.3" y="284.1" font-size="8.3" text-anchor="middle">0.00</text><line x1="87.35" y1="270.7" x2="87.35" y2="273.2" stroke="#111" stroke-width="0.7"/><text x="87.35" y="284.1" font-size="8.3" text-anchor="middle">0.01</text><line x1="114.4" y1="270.7" x2="114.4" y2="273.2" stroke="#111" stroke-width="0.7"/><text x="114.4" y="284.1" font-size="8.3" text-anchor="middle">0.02</text><line x1="141.45" y1="270.7" x2="141.45" y2="273.2" stroke="#111" stroke-width="0.7"/><text x="141.45" y="284.1" font-size="8.3" text-anchor="middle">0.03</text><line x1="168.5" y1="270.7" x2="168.5" y2="273.2" stroke="#111" stroke-width="0.7"/><text x="168.5" y="284.1" font-size="8.3" text-anchor="middle">0.04</text><line x1="195.55" y1="270.7" x2="195.55" y2="273.2" stroke="#111" stroke-width="0.7"/><text x="195.55" y="284.1" font-size="8.3" text-anchor="middle">0.05</text><line x1="222.6" y1="270.7" x2="222.6" y2="273.2" stroke="#111" stroke-width="0.7"/><text x="222.6" y="284.1" font-size="8.3" text-anchor="middle">0.06</text>
<g shape-rendering="crispEdges" clip-path="url(#cp1)"><rect x="246.6" y="3.3" width="47.7" height="10.8" fill="#d2e21b"/><rect x="294" y="3.3" width="18.8" height="10.8" fill="#dae319"/><rect x="312.5" y="3.3" width="10.6" height="10.8" fill="#dae319"/><rect x="322.8" y="3.3" width="7.7" height="10.8" fill="#dae319"/><rect x="330.2" y="3.3" width="6.6" height="10.8" fill="#e2e418"/><rect x="336.5" y="3.3" width="5.9" height="10.8" fill="#dae319"/><rect x="342.1" y="3.3" width="5.5" height="10.8" fill="#dae319"/><rect x="347.3" y="3.3" width="5" height="10.8" fill="#dae319"/><rect x="352" y="3.3" width="4.5" height="10.8" fill="#dae319"/><rect x="356.2" y="3.3" width="4.6" height="10.8" fill="#cde11d"/><rect x="360.5" y="3.3" width="4.8" height="10.8" fill="#b5de2b"/><rect x="365" y="3.3" width="4.5" height="10.8" fill="#b5de2b"/><rect x="369.2" y="3.3" width="4.8" height="10.8" fill="#a5db36"/><rect x="373.7" y="3.3" width="5.5" height="10.8" fill="#7ad151"/><rect x="378.9" y="3.3" width="6.6" height="10.8" fill="#7ad151"/><rect x="385.2" y="3.3" width="7.8" height="10.8" fill="#6ece58"/><rect x="392.7" y="3.3" width="8.8" height="10.8" fill="#35b779"/><rect x="401.2" y="3.3" width="13.9" height="10.8" fill="#1fa287"/><rect x="414.8" y="3.3" width="18.1" height="10.8" fill="#297b8e"/><rect x="432.6" y="3.3" width="21.7" height="10.8" fill="#3c508b"/><rect x="246.6" y="13.8" width="47.7" height="10.3" fill="#d2e21b"/><rect x="294" y="13.8" width="18.8" height="10.3" fill="#dae319"/><rect x="312.5" y="13.8" width="10.6" height="10.3" fill="#dae319"/><rect x="322.8" y="13.8" width="7.7" height="10.3" fill="#dae319"/><rect x="330.2" y="13.8" width="6.6" height="10.3" fill="#e2e418"/><rect x="336.5" y="13.8" width="5.9" height="10.3" fill="#dae319"/><rect x="342.1" y="13.8" width="5.5" height="10.3" fill="#dae319"/><rect x="347.3" y="13.8" width="5" height="10.3" fill="#dae319"/><rect x="352" y="13.8" width="4.5" height="10.3" fill="#c5e021"/><rect x="356.2" y="13.8" width="4.6" height="10.3" fill="#b5de2b"/><rect x="360.5" y="13.8" width="4.8" height="10.3" fill="#a5db36"/><rect x="365" y="13.8" width="4.5" height="10.3" fill="#a0da39"/><rect x="369.2" y="13.8" width="4.8" height="10.3" fill="#90d743"/><rect x="373.7" y="13.8" width="5.5" height="10.3" fill="#6ece58"/><rect x="378.9" y="13.8" width="6.6" height="10.3" fill="#5ac864"/><rect x="385.2" y="13.8" width="7.8" height="10.3" fill="#3fbc73"/><rect x="392.7" y="13.8" width="8.8" height="10.3" fill="#25ab82"/><rect x="401.2" y="13.8" width="13.9" height="10.3" fill="#21918c"/><rect x="414.8" y="13.8" width="18.1" height="10.3" fill="#355f8d"/><rect x="432.6" y="13.8" width="21.7" height="10.3" fill="#472f7d"/><rect x="246.6" y="23.8" width="47.7" height="10.3" fill="#d2e21b"/><rect x="294" y="23.8" width="18.8" height="10.3" fill="#dae319"/><rect x="312.5" y="23.8" width="10.6" height="10.3" fill="#dae319"/><rect x="322.8" y="23.8" width="7.7" height="10.3" fill="#dae319"/><rect x="330.2" y="23.8" width="6.6" height="10.3" fill="#e2e418"/><rect x="336.5" y="23.8" width="5.9" height="10.3" fill="#dae319"/><rect x="342.1" y="23.8" width="5.5" height="10.3" fill="#d2e21b"/><rect x="347.3" y="23.8" width="5" height="10.3" fill="#c5e021"/><rect x="352" y="23.8" width="4.5" height="10.3" fill="#b5de2b"/><rect x="356.2" y="23.8" width="4.6" height="10.3" fill="#a5db36"/><rect x="360.5" y="23.8" width="4.8" height="10.3" fill="#a0da39"/><rect x="365" y="23.8" width="4.5" height="10.3" fill="#7ad151"/><rect x="369.2" y="23.8" width="4.8" height="10.3" fill="#6ece58"/><rect x="373.7" y="23.8" width="5.5" height="10.3" fill="#5ac864"/><rect x="378.9" y="23.8" width="6.6" height="10.3" fill="#4ec36b"/><rect x="385.2" y="23.8" width="7.8" height="10.3" fill="#35b779"/><rect x="392.7" y="23.8" width="8.8" height="10.3" fill="#1f988b"/><rect x="401.2" y="23.8" width="13.9" height="10.3" fill="#277e8e"/><rect x="414.8" y="23.8" width="18.1" height="10.3" fill="#375a8c"/><rect x="432.6" y="23.8" width="21.7" height="10.3" fill="#46085c"/><rect x="246.6" y="33.8" width="47.7" height="10.3" fill="#d2e21b"/><rect x="294" y="33.8" width="18.8" height="10.3" fill="#dae319"/><rect x="312.5" y="33.8" width="10.6" height="10.3" fill="#dae319"/><rect x="322.8" y="33.8" width="7.7" height="10.3" fill="#dae319"/><rect x="330.2" y="33.8" width="6.6" height="10.3" fill="#c5e021"/><rect x="336.5" y="33.8" width="5.9" height="10.3" fill="#bddf26"/><rect x="342.1" y="33.8" width="5.5" height="10.3" fill="#b5de2b"/><rect x="347.3" y="33.8" width="5" height="10.3" fill="#addc30"/><rect x="352" y="33.8" width="4.5" height="10.3" fill="#a0da39"/><rect x="356.2" y="33.8" width="4.6" height="10.3" fill="#90d743"/><rect x="360.5" y="33.8" width="4.8" height="10.3" fill="#81d34d"/><rect x="365" y="33.8" width="4.5" height="10.3" fill="#6ece58"/><rect x="369.2" y="33.8" width="4.8" height="10.3" fill="#60ca60"/><rect x="373.7" y="33.8" width="5.5" height="10.3" fill="#4ac16d"/><rect x="378.9" y="33.8" width="6.6" height="10.3" fill="#2ab07f"/><rect x="385.2" y="33.8" width="7.8" height="10.3" fill="#1f988b"/><rect x="392.7" y="33.8" width="8.8" height="10.3" fill="#23888e"/><rect x="401.2" y="33.8" width="13.9" height="10.3" fill="#2b758e"/><rect x="414.8" y="33.8" width="18.1" height="10.3" fill="#443983"/><rect x="432.6" y="33.8" width="21.7" height="10.3" fill="#440154"/><rect x="246.6" y="43.8" width="47.7" height="10.3" fill="#c5e021"/><rect x="294" y="43.8" width="18.8" height="10.3" fill="#e2e418"/><rect x="312.5" y="43.8" width="10.6" height="10.3" fill="#bddf26"/><rect x="322.8" y="43.8" width="7.7" height="10.3" fill="#b5de2b"/><rect x="330.2" y="43.8" width="6.6" height="10.3" fill="#b5de2b"/><rect x="336.5" y="43.8" width="5.9" height="10.3" fill="#b5de2b"/><rect x="342.1" y="43.8" width="5.5" height="10.3" fill="#a5db36"/><rect x="347.3" y="43.8" width="5" height="10.3" fill="#addc30"/><rect x="352" y="43.8" width="4.5" height="10.3" fill="#a0da39"/><rect x="356.2" y="43.8" width="4.6" height="10.3" fill="#89d548"/><rect x="360.5" y="43.8" width="4.8" height="10.3" fill="#6ece58"/><rect x="365" y="43.8" width="4.5" height="10.3" fill="#5ac864"/><rect x="369.2" y="43.8" width="4.8" height="10.3" fill="#44bf70"/><rect x="373.7" y="43.8" width="5.5" height="10.3" fill="#2db27d"/><rect x="378.9" y="43.8" width="6.6" height="10.3" fill="#1fa287"/><rect x="385.2" y="43.8" width="7.8" height="10.3" fill="#218e8d"/><rect x="392.7" y="43.8" width="8.8" height="10.3" fill="#2b758e"/><rect x="401.2" y="43.8" width="13.9" height="10.3" fill="#375a8c"/><rect x="414.8" y="43.8" width="18.1" height="10.3" fill="#46085c"/><rect x="432.6" y="43.8" width="21.7" height="10.3" fill="#440154"/><rect x="246.6" y="53.8" width="47.7" height="10.3" fill="#a0da39"/><rect x="294" y="53.8" width="18.8" height="10.3" fill="#a0da39"/><rect x="312.5" y="53.8" width="10.6" height="10.3" fill="#a0da39"/><rect x="322.8" y="53.8" width="7.7" height="10.3" fill="#a5db36"/><rect x="330.2" y="53.8" width="6.6" height="10.3" fill="#a0da39"/><rect x="336.5" y="53.8" width="5.9" height="10.3" fill="#a0da39"/><rect x="342.1" y="53.8" width="5.5" height="10.3" fill="#90d743"/><rect x="347.3" y="53.8" width="5" height="10.3" fill="#90d743"/><rect x="352" y="53.8" width="4.5" height="10.3" fill="#81d34d"/><rect x="356.2" y="53.8" width="4.6" height="10.3" fill="#6ece58"/><rect x="360.5" y="53.8" width="4.8" height="10.3" fill="#54c568"/><rect x="365" y="53.8" width="4.5" height="10.3" fill="#3fbc73"/><rect x="369.2" y="53.8" width="4.8" height="10.3" fill="#2db27d"/><rect x="373.7" y="53.8" width="5.5" height="10.3" fill="#1fa287"/><rect x="378.9" y="53.8" width="6.6" height="10.3" fill="#1f958b"/><rect x="385.2" y="53.8" width="7.8" height="10.3" fill="#26828e"/><rect x="392.7" y="53.8" width="8.8" height="10.3" fill="#2e6e8e"/><rect x="401.2" y="53.8" width="13.9" height="10.3" fill="#3c508b"/><rect x="414.8" y="53.8" width="18.1" height="10.3" fill="#482071"/><rect x="432.6" y="53.8" width="21.7" height="10.3" fill="#46085c"/><rect x="246.6" y="63.8" width="47.7" height="10.3" fill="#90d743"/><rect x="294" y="63.8" width="18.8" height="10.3" fill="#90d743"/><rect x="312.5" y="63.8" width="10.6" height="10.3" fill="#90d743"/><rect x="322.8" y="63.8" width="7.7" height="10.3" fill="#81d34d"/><rect x="330.2" y="63.8" width="6.6" height="10.3" fill="#7ad151"/><rect x="336.5" y="63.8" width="5.9" height="10.3" fill="#7ad151"/><rect x="342.1" y="63.8" width="5.5" height="10.3" fill="#6ece58"/><rect x="347.3" y="63.8" width="5" height="10.3" fill="#73d056"/><rect x="352" y="63.8" width="4.5" height="10.3" fill="#60ca60"/><rect x="356.2" y="63.8" width="4.6" height="10.3" fill="#4ac16d"/><rect x="360.5" y="63.8" width="4.8" height="10.3" fill="#35b779"/><rect x="365" y="63.8" width="4.5" height="10.3" fill="#2ab07f"/><rect x="369.2" y="63.8" width="4.8" height="10.3" fill="#1fa287"/><rect x="373.7" y="63.8" width="5.5" height="10.3" fill="#1f958b"/><rect x="378.9" y="63.8" width="6.6" height="10.3" fill="#26828e"/><rect x="385.2" y="63.8" width="7.8" height="10.3" fill="#2c728e"/><rect x="392.7" y="63.8" width="8.8" height="10.3" fill="#39568c"/><rect x="401.2" y="63.8" width="13.9" height="10.3" fill="#3c508b"/><rect x="414.8" y="63.8" width="18.1" height="10.3" fill="#472f7d"/><rect x="432.6" y="63.8" width="21.7" height="10.3" fill="#471164"/><rect x="246.6" y="73.8" width="47.7" height="10.3" fill="#73d056"/><rect x="294" y="73.8" width="18.8" height="10.3" fill="#73d056"/><rect x="312.5" y="73.8" width="10.6" height="10.3" fill="#54c568"/><rect x="322.8" y="73.8" width="7.7" height="10.3" fill="#60ca60"/><rect x="330.2" y="73.8" width="6.6" height="10.3" fill="#3fbc73"/><rect x="336.5" y="73.8" width="5.9" height="10.3" fill="#54c568"/><rect x="342.1" y="73.8" width="5.5" height="10.3" fill="#35b779"/><rect x="347.3" y="73.8" width="5" height="10.3" fill="#44bf70"/><rect x="352" y="73.8" width="4.5" height="10.3" fill="#3aba76"/><rect x="356.2" y="73.8" width="4.6" height="10.3" fill="#2db27d"/><rect x="360.5" y="73.8" width="4.8" height="10.3" fill="#25ab82"/><rect x="365" y="73.8" width="4.5" height="10.3" fill="#1f9e89"/><rect x="369.2" y="73.8" width="4.8" height="10.3" fill="#21918c"/><rect x="373.7" y="73.8" width="5.5" height="10.3" fill="#26828e"/><rect x="378.9" y="73.8" width="6.6" height="10.3" fill="#297b8e"/><rect x="385.2" y="73.8" width="7.8" height="10.3" fill="#31688e"/><rect x="392.7" y="73.8" width="8.8" height="10.3" fill="#3c508b"/><rect x="401.2" y="73.8" width="13.9" height="10.3" fill="#481c6e"/><rect x="414.8" y="73.8" width="18.1" height="10.3" fill="#443983"/><rect x="432.6" y="73.8" width="21.7" height="10.3" fill="#472f7d"/><rect x="246.6" y="83.8" width="47.7" height="10.3" fill="#67cc5c"/><rect x="294" y="83.8" width="18.8" height="10.3" fill="#54c568"/><rect x="312.5" y="83.8" width="10.6" height="10.3" fill="#4ac16d"/><rect x="322.8" y="83.8" width="7.7" height="10.3" fill="#54c568"/><rect x="330.2" y="83.8" width="6.6" height="10.3" fill="#3fbc73"/><rect x="336.5" y="83.8" width="5.9" height="10.3" fill="#3fbc73"/><rect x="342.1" y="83.8" width="5.5" height="10.3" fill="#35b779"/><rect x="347.3" y="83.8" width="5" height="10.3" fill="#35b779"/><rect x="352" y="83.8" width="4.5" height="10.3" fill="#2ab07f"/><rect x="356.2" y="83.8" width="4.6" height="10.3" fill="#25ab82"/><rect x="360.5" y="83.8" width="4.8" height="10.3" fill="#1f9e89"/><rect x="365" y="83.8" width="4.5" height="10.3" fill="#21918c"/><rect x="369.2" y="83.8" width="4.8" height="10.3" fill="#26828e"/><rect x="373.7" y="83.8" width="5.5" height="10.3" fill="#2b758e"/><rect x="378.9" y="83.8" width="6.6" height="10.3" fill="#2e6e8e"/><rect x="385.2" y="83.8" width="7.8" height="10.3" fill="#355f8d"/><rect x="392.7" y="83.8" width="8.8" height="10.3" fill="#3c508b"/><rect x="401.2" y="83.8" width="13.9" height="10.3" fill="#424086"/><rect x="414.8" y="83.8" width="18.1" height="10.3" fill="#424086"/><rect x="432.6" y="83.8" width="21.7" height="10.3" fill="#3e4989"/><rect x="246.6" y="93.8" width="47.7" height="10.3" fill="#35b779"/><rect x="294" y="93.8" width="18.8" height="10.3" fill="#2db27d"/><rect x="312.5" y="93.8" width="10.6" height="10.3" fill="#2ab07f"/><rect x="322.8" y="93.8" width="7.7" height="10.3" fill="#35b779"/><rect x="330.2" y="93.8" width="6.6" height="10.3" fill="#1fa287"/><rect x="336.5" y="93.8" width="5.9" height="10.3" fill="#2ab07f"/><rect x="342.1" y="93.8" width="5.5" height="10.3" fill="#1fa287"/><rect x="347.3" y="93.8" width="5" height="10.3" fill="#22a884"/><rect x="352" y="93.8" width="4.5" height="10.3" fill="#1f9e89"/><rect x="356.2" y="93.8" width="4.6" height="10.3" fill="#1f958b"/><rect x="360.5" y="93.8" width="4.8" height="10.3" fill="#23888e"/><rect x="365" y="93.8" width="4.5" height="10.3" fill="#26828e"/><rect x="369.2" y="93.8" width="4.8" height="10.3" fill="#2b758e"/><rect x="373.7" y="93.8" width="5.5" height="10.3" fill="#31688e"/><rect x="378.9" y="93.8" width="6.6" height="10.3" fill="#355f8d"/><rect x="385.2" y="93.8" width="7.8" height="10.3" fill="#3c508b"/><rect x="392.7" y="93.8" width="8.8" height="10.3" fill="#443983"/><rect x="401.2" y="93.8" width="13.9" height="10.3" fill="#424086"/><rect x="414.8" y="93.8" width="18.1" height="10.3" fill="#3e4989"/><rect x="432.6" y="93.8" width="21.7" height="10.3" fill="#3c508b"/><rect x="246.6" y="103.8" width="47.7" height="10.3" fill="#1fa287"/><rect x="294" y="103.8" width="18.8" height="10.3" fill="#1fa287"/><rect x="312.5" y="103.8" width="10.6" height="10.3" fill="#1f9e89"/><rect x="322.8" y="103.8" width="7.7" height="10.3" fill="#1f9e89"/><rect x="330.2" y="103.8" width="6.6" height="10.3" fill="#1f958b"/><rect x="336.5" y="103.8" width="5.9" height="10.3" fill="#1f958b"/><rect x="342.1" y="103.8" width="5.5" height="10.3" fill="#23888e"/><rect x="347.3" y="103.8" width="5" height="10.3" fill="#23888e"/><rect x="352" y="103.8" width="4.5" height="10.3" fill="#26828e"/><rect x="356.2" y="103.8" width="4.6" height="10.3" fill="#297b8e"/><rect x="360.5" y="103.8" width="4.8" height="10.3" fill="#2b758e"/><rect x="365" y="103.8" width="4.5" height="10.3" fill="#2e6e8e"/><rect x="369.2" y="103.8" width="4.8" height="10.3" fill="#31688e"/><rect x="373.7" y="103.8" width="5.5" height="10.3" fill="#355f8d"/><rect x="378.9" y="103.8" width="6.6" height="10.3" fill="#3c508b"/><rect x="385.2" y="103.8" width="7.8" height="10.3" fill="#414487"/><rect x="392.7" y="103.8" width="8.8" height="10.3" fill="#481c6e"/><rect x="401.2" y="103.8" width="13.9" height="10.3" fill="#424086"/><rect x="414.8" y="103.8" width="18.1" height="10.3" fill="#443983"/><rect x="432.6" y="103.8" width="21.7" height="10.3" fill="#3c508b"/><rect x="246.6" y="113.8" width="47.7" height="10.3" fill="#26828e"/><rect x="294" y="113.8" width="18.8" height="10.3" fill="#26828e"/><rect x="312.5" y="113.8" width="10.6" height="10.3" fill="#297b8e"/><rect x="322.8" y="113.8" width="7.7" height="10.3" fill="#2b758e"/><rect x="330.2" y="113.8" width="6.6" height="10.3" fill="#2b758e"/><rect x="336.5" y="113.8" width="5.9" height="10.3" fill="#2b758e"/><rect x="342.1" y="113.8" width="5.5" height="10.3" fill="#2e6e8e"/><rect x="347.3" y="113.8" width="5" height="10.3" fill="#2c728e"/><rect x="352" y="113.8" width="4.5" height="10.3" fill="#2e6e8e"/><rect x="356.2" y="113.8" width="4.6" height="10.3" fill="#31688e"/><rect x="360.5" y="113.8" width="4.8" height="10.3" fill="#33628d"/><rect x="365" y="113.8" width="4.5" height="10.3" fill="#375a8c"/><rect x="369.2" y="113.8" width="4.8" height="10.3" fill="#375a8c"/><rect x="373.7" y="113.8" width="5.5" height="10.3" fill="#3e4989"/><rect x="378.9" y="113.8" width="6.6" height="10.3" fill="#424086"/><rect x="385.2" y="113.8" width="7.8" height="10.3" fill="#481668"/><rect x="392.7" y="113.8" width="8.8" height="10.3" fill="#443983"/><rect x="401.2" y="113.8" width="13.9" height="10.3" fill="#3e4989"/><rect x="414.8" y="113.8" width="18.1" height="10.3" fill="#375a8c"/><rect x="432.6" y="113.8" width="21.7" height="10.3" fill="#2d708e"/><rect x="246.6" y="123.8" width="47.7" height="10.3" fill="#297b8e"/><rect x="294" y="123.8" width="18.8" height="10.3" fill="#32658e"/><rect x="312.5" y="123.8" width="10.6" height="10.3" fill="#2e6e8e"/><rect x="322.8" y="123.8" width="7.7" height="10.3" fill="#355f8d"/><rect x="330.2" y="123.8" width="6.6" height="10.3" fill="#31688e"/><rect x="336.5" y="123.8" width="5.9" height="10.3" fill="#31688e"/><rect x="342.1" y="123.8" width="5.5" height="10.3" fill="#375a8c"/><rect x="347.3" y="123.8" width="5" height="10.3" fill="#39568c"/><rect x="352" y="123.8" width="4.5" height="10.3" fill="#39568c"/><rect x="356.2" y="123.8" width="4.6" height="10.3" fill="#3c508b"/><rect x="360.5" y="123.8" width="4.8" height="10.3" fill="#3d4d8a"/><rect x="365" y="123.8" width="4.5" height="10.3" fill="#3e4989"/><rect x="369.2" y="123.8" width="4.8" height="10.3" fill="#414487"/><rect x="373.7" y="123.8" width="5.5" height="10.3" fill="#433d84"/><rect x="378.9" y="123.8" width="6.6" height="10.3" fill="#481a6c"/><rect x="385.2" y="123.8" width="7.8" height="10.3" fill="#443983"/><rect x="392.7" y="123.8" width="8.8" height="10.3" fill="#424086"/><rect x="401.2" y="123.8" width="13.9" height="10.3" fill="#3c508b"/><rect x="414.8" y="123.8" width="18.1" height="10.3" fill="#355f8d"/><rect x="432.6" y="123.8" width="21.7" height="10.3" fill="#2b758e"/><rect x="246.6" y="133.8" width="47.7" height="10.3" fill="#31688e"/><rect x="294" y="133.8" width="18.8" height="10.3" fill="#375a8c"/><rect x="312.5" y="133.8" width="10.6" height="10.3" fill="#375a8c"/><rect x="322.8" y="133.8" width="7.7" height="10.3" fill="#443983"/><rect x="330.2" y="133.8" width="6.6" height="10.3" fill="#3c508b"/><rect x="336.5" y="133.8" width="5.9" height="10.3" fill="#3e4989"/><rect x="342.1" y="133.8" width="5.5" height="10.3" fill="#472f7d"/><rect x="347.3" y="133.8" width="5" height="10.3" fill="#3e4989"/><rect x="352" y="133.8" width="4.5" height="10.3" fill="#472f7d"/><rect x="356.2" y="133.8" width="4.6" height="10.3" fill="#443983"/><rect x="360.5" y="133.8" width="4.8" height="10.3" fill="#482878"/><rect x="365" y="133.8" width="4.5" height="10.3" fill="#472f7d"/><rect x="369.2" y="133.8" width="4.8" height="10.3" fill="#482878"/><rect x="373.7" y="133.8" width="5.5" height="10.3" fill="#482878"/><rect x="378.9" y="133.8" width="6.6" height="10.3" fill="#472f7d"/><rect x="385.2" y="133.8" width="7.8" height="10.3" fill="#443983"/><rect x="392.7" y="133.8" width="8.8" height="10.3" fill="#3e4989"/><rect x="401.2" y="133.8" width="13.9" height="10.3" fill="#375a8c"/><rect x="414.8" y="133.8" width="18.1" height="10.3" fill="#26828e"/><rect x="432.6" y="133.8" width="21.7" height="10.3" fill="#21918c"/><rect x="246.6" y="143.8" width="47.7" height="10.3" fill="#443983"/><rect x="294" y="143.8" width="18.8" height="10.3" fill="#3c508b"/><rect x="312.5" y="143.8" width="10.6" height="10.3" fill="#443983"/><rect x="322.8" y="143.8" width="7.7" height="10.3" fill="#375a8c"/><rect x="330.2" y="143.8" width="6.6" height="10.3" fill="#3e4989"/><rect x="336.5" y="143.8" width="5.9" height="10.3" fill="#424086"/><rect x="342.1" y="143.8" width="5.5" height="10.3" fill="#481c6e"/><rect x="347.3" y="143.8" width="5" height="10.3" fill="#472f7d"/><rect x="352" y="143.8" width="4.5" height="10.3" fill="#481c6e"/><rect x="356.2" y="143.8" width="4.6" height="10.3" fill="#482878"/><rect x="360.5" y="143.8" width="4.8" height="10.3" fill="#481c6e"/><rect x="365" y="143.8" width="4.5" height="10.3" fill="#482878"/><rect x="369.2" y="143.8" width="4.8" height="10.3" fill="#472f7d"/><rect x="373.7" y="143.8" width="5.5" height="10.3" fill="#443983"/><rect x="378.9" y="143.8" width="6.6" height="10.3" fill="#424086"/><rect x="385.2" y="143.8" width="7.8" height="10.3" fill="#424086"/><rect x="392.7" y="143.8" width="8.8" height="10.3" fill="#3c508b"/><rect x="401.2" y="143.8" width="13.9" height="10.3" fill="#2b758e"/><rect x="414.8" y="143.8" width="18.1" height="10.3" fill="#23888e"/><rect x="432.6" y="143.8" width="21.7" height="10.3" fill="#1f9e89"/><rect x="246.6" y="153.8" width="47.7" height="10.3" fill="#3e4989"/><rect x="294" y="153.8" width="18.8" height="10.3" fill="#482878"/><rect x="312.5" y="153.8" width="10.6" height="10.3" fill="#443983"/><rect x="322.8" y="153.8" width="7.7" height="10.3" fill="#443983"/><rect x="330.2" y="153.8" width="6.6" height="10.3" fill="#472f7d"/><rect x="336.5" y="153.8" width="5.9" height="10.3" fill="#481c6e"/><rect x="342.1" y="153.8" width="5.5" height="10.3" fill="#472f7d"/><rect x="347.3" y="153.8" width="5" height="10.3" fill="#482878"/><rect x="352" y="153.8" width="4.5" height="10.3" fill="#481c6e"/><rect x="356.2" y="153.8" width="4.6" height="10.3" fill="#481668"/><rect x="360.5" y="153.8" width="4.8" height="10.3" fill="#482878"/><rect x="365" y="153.8" width="4.5" height="10.3" fill="#453581"/><rect x="369.2" y="153.8" width="4.8" height="10.3" fill="#443983"/><rect x="373.7" y="153.8" width="5.5" height="10.3" fill="#443983"/><rect x="378.9" y="153.8" width="6.6" height="10.3" fill="#424086"/><rect x="385.2" y="153.8" width="7.8" height="10.3" fill="#3c508b"/><rect x="392.7" y="153.8" width="8.8" height="10.3" fill="#355f8d"/><rect x="401.2" y="153.8" width="13.9" height="10.3" fill="#277e8e"/><rect x="414.8" y="153.8" width="18.1" height="10.3" fill="#21918c"/><rect x="432.6" y="153.8" width="21.7" height="10.3" fill="#3fbc73"/><rect x="246.6" y="163.8" width="47.7" height="10.3" fill="#482878"/><rect x="294" y="163.8" width="18.8" height="10.3" fill="#482878"/><rect x="312.5" y="163.8" width="10.6" height="10.3" fill="#46327e"/><rect x="322.8" y="163.8" width="7.7" height="10.3" fill="#472f7d"/><rect x="330.2" y="163.8" width="6.6" height="10.3" fill="#482878"/><rect x="336.5" y="163.8" width="5.9" height="10.3" fill="#481c6e"/><rect x="342.1" y="163.8" width="5.5" height="10.3" fill="#481668"/><rect x="347.3" y="163.8" width="5" height="10.3" fill="#482071"/><rect x="352" y="163.8" width="4.5" height="10.3" fill="#482878"/><rect x="356.2" y="163.8" width="4.6" height="10.3" fill="#482878"/><rect x="360.5" y="163.8" width="4.8" height="10.3" fill="#472f7d"/><rect x="365" y="163.8" width="4.5" height="10.3" fill="#453581"/><rect x="369.2" y="163.8" width="4.8" height="10.3" fill="#443983"/><rect x="373.7" y="163.8" width="5.5" height="10.3" fill="#433d84"/><rect x="378.9" y="163.8" width="6.6" height="10.3" fill="#3e4989"/><rect x="385.2" y="163.8" width="7.8" height="10.3" fill="#375a8c"/><rect x="392.7" y="163.8" width="8.8" height="10.3" fill="#2e6e8e"/><rect x="401.2" y="163.8" width="13.9" height="10.3" fill="#26828e"/><rect x="414.8" y="163.8" width="18.1" height="10.3" fill="#1f958b"/><rect x="432.6" y="163.8" width="21.7" height="10.3" fill="#3fbc73"/><rect x="246.6" y="173.8" width="47.7" height="10.3" fill="#481c6e"/><rect x="294" y="173.8" width="18.8" height="10.3" fill="#481c6e"/><rect x="312.5" y="173.8" width="10.6" height="10.3" fill="#46085c"/><rect x="322.8" y="173.8" width="7.7" height="10.3" fill="#481c6e"/><rect x="330.2" y="173.8" width="6.6" height="10.3" fill="#481a6c"/><rect x="336.5" y="173.8" width="5.9" height="10.3" fill="#481668"/><rect x="342.1" y="173.8" width="5.5" height="10.3" fill="#481c6e"/><rect x="347.3" y="173.8" width="5" height="10.3" fill="#481c6e"/><rect x="352" y="173.8" width="4.5" height="10.3" fill="#482878"/><rect x="356.2" y="173.8" width="4.6" height="10.3" fill="#472f7d"/><rect x="360.5" y="173.8" width="4.8" height="10.3" fill="#443983"/><rect x="365" y="173.8" width="4.5" height="10.3" fill="#424086"/><rect x="369.2" y="173.8" width="4.8" height="10.3" fill="#3e4989"/><rect x="373.7" y="173.8" width="5.5" height="10.3" fill="#3c508b"/><rect x="378.9" y="173.8" width="6.6" height="10.3" fill="#375a8c"/><rect x="385.2" y="173.8" width="7.8" height="10.3" fill="#31688e"/><rect x="392.7" y="173.8" width="8.8" height="10.3" fill="#277e8e"/><rect x="401.2" y="173.8" width="13.9" height="10.3" fill="#23888e"/><rect x="414.8" y="173.8" width="18.1" height="10.3" fill="#1f9e89"/><rect x="432.6" y="173.8" width="21.7" height="10.3" fill="#4ec36b"/><rect x="246.6" y="183.8" width="47.7" height="10.3" fill="#471164"/><rect x="294" y="183.8" width="18.8" height="10.3" fill="#46085c"/><rect x="312.5" y="183.8" width="10.6" height="10.3" fill="#46085c"/><rect x="322.8" y="183.8" width="7.7" height="10.3" fill="#481668"/><rect x="330.2" y="183.8" width="6.6" height="10.3" fill="#481668"/><rect x="336.5" y="183.8" width="5.9" height="10.3" fill="#481668"/><rect x="342.1" y="183.8" width="5.5" height="10.3" fill="#481c6e"/><rect x="347.3" y="183.8" width="5" height="10.3" fill="#481668"/><rect x="352" y="183.8" width="4.5" height="10.3" fill="#472f7d"/><rect x="356.2" y="183.8" width="4.6" height="10.3" fill="#443983"/><rect x="360.5" y="183.8" width="4.8" height="10.3" fill="#443983"/><rect x="365" y="183.8" width="4.5" height="10.3" fill="#3e4989"/><rect x="369.2" y="183.8" width="4.8" height="10.3" fill="#3c508b"/><rect x="373.7" y="183.8" width="5.5" height="10.3" fill="#375a8c"/><rect x="378.9" y="183.8" width="6.6" height="10.3" fill="#31688e"/><rect x="385.2" y="183.8" width="7.8" height="10.3" fill="#2b758e"/><rect x="392.7" y="183.8" width="8.8" height="10.3" fill="#26828e"/><rect x="401.2" y="183.8" width="13.9" height="10.3" fill="#21918c"/><rect x="414.8" y="183.8" width="18.1" height="10.3" fill="#3aba76"/><rect x="432.6" y="183.8" width="21.7" height="10.3" fill="#6ece58"/><rect x="246.6" y="193.8" width="47.7" height="10.3" fill="#46085c"/><rect x="294" y="193.8" width="18.8" height="10.3" fill="#440154"/><rect x="312.5" y="193.8" width="10.6" height="10.3" fill="#46085c"/><rect x="322.8" y="193.8" width="7.7" height="10.3" fill="#46085c"/><rect x="330.2" y="193.8" width="6.6" height="10.3" fill="#46085c"/><rect x="336.5" y="193.8" width="5.9" height="10.3" fill="#481668"/><rect x="342.1" y="193.8" width="5.5" height="10.3" fill="#481668"/><rect x="347.3" y="193.8" width="5" height="10.3" fill="#472f7d"/><rect x="352" y="193.8" width="4.5" height="10.3" fill="#482878"/><rect x="356.2" y="193.8" width="4.6" height="10.3" fill="#443983"/><rect x="360.5" y="193.8" width="4.8" height="10.3" fill="#3e4989"/><rect x="365" y="193.8" width="4.5" height="10.3" fill="#3c508b"/><rect x="369.2" y="193.8" width="4.8" height="10.3" fill="#375a8c"/><rect x="373.7" y="193.8" width="5.5" height="10.3" fill="#33628d"/><rect x="378.9" y="193.8" width="6.6" height="10.3" fill="#2e6e8e"/><rect x="385.2" y="193.8" width="7.8" height="10.3" fill="#26828e"/><rect x="392.7" y="193.8" width="8.8" height="10.3" fill="#23888e"/><rect x="401.2" y="193.8" width="13.9" height="10.3" fill="#1f9e89"/><rect x="414.8" y="193.8" width="18.1" height="10.3" fill="#4ec36b"/><rect x="432.6" y="193.8" width="21.7" height="10.3" fill="#7ad151"/><rect x="246.6" y="203.8" width="47.7" height="10.3" fill="#440154"/><rect x="294" y="203.8" width="18.8" height="10.3" fill="#440154"/><rect x="312.5" y="203.8" width="10.6" height="10.3" fill="#46085c"/><rect x="322.8" y="203.8" width="7.7" height="10.3" fill="#481668"/><rect x="330.2" y="203.8" width="6.6" height="10.3" fill="#481668"/><rect x="336.5" y="203.8" width="5.9" height="10.3" fill="#482878"/><rect x="342.1" y="203.8" width="5.5" height="10.3" fill="#443983"/><rect x="347.3" y="203.8" width="5" height="10.3" fill="#443983"/><rect x="352" y="203.8" width="4.5" height="10.3" fill="#424086"/><rect x="356.2" y="203.8" width="4.6" height="10.3" fill="#3e4989"/><rect x="360.5" y="203.8" width="4.8" height="10.3" fill="#3c508b"/><rect x="365" y="203.8" width="4.5" height="10.3" fill="#355f8d"/><rect x="369.2" y="203.8" width="4.8" height="10.3" fill="#31688e"/><rect x="373.7" y="203.8" width="5.5" height="10.3" fill="#2b758e"/><rect x="378.9" y="203.8" width="6.6" height="10.3" fill="#26828e"/><rect x="385.2" y="203.8" width="7.8" height="10.3" fill="#21918c"/><rect x="392.7" y="203.8" width="8.8" height="10.3" fill="#1f9e89"/><rect x="401.2" y="203.8" width="13.9" height="10.3" fill="#35b779"/><rect x="414.8" y="203.8" width="18.1" height="10.3" fill="#6ece58"/><rect x="432.6" y="203.8" width="21.7" height="10.3" fill="#a0da39"/><rect x="246.6" y="213.8" width="47.7" height="6.9" fill="#440154"/><rect x="294" y="213.8" width="18.8" height="6.9" fill="#482878"/><rect x="312.5" y="213.8" width="10.6" height="6.9" fill="#481668"/><rect x="322.8" y="213.8" width="7.7" height="6.9" fill="#481c6e"/><rect x="330.2" y="213.8" width="6.6" height="6.9" fill="#414487"/><rect x="336.5" y="213.8" width="5.9" height="6.9" fill="#3e4989"/><rect x="342.1" y="213.8" width="5.5" height="6.9" fill="#3c508b"/><rect x="347.3" y="213.8" width="5" height="6.9" fill="#3e4989"/><rect x="352" y="213.8" width="4.5" height="6.9" fill="#3c508b"/><rect x="356.2" y="213.8" width="4.6" height="6.9" fill="#355f8d"/><rect x="360.5" y="213.8" width="4.8" height="6.9" fill="#31688e"/><rect x="365" y="213.8" width="4.5" height="6.9" fill="#2b758e"/><rect x="369.2" y="213.8" width="4.8" height="6.9" fill="#277e8e"/><rect x="373.7" y="213.8" width="5.5" height="6.9" fill="#26828e"/><rect x="378.9" y="213.8" width="6.6" height="6.9" fill="#21918c"/><rect x="385.2" y="213.8" width="7.8" height="6.9" fill="#1fa287"/><rect x="392.7" y="213.8" width="8.8" height="6.9" fill="#4ec36b"/><rect x="401.2" y="213.8" width="13.9" height="6.9" fill="#7ad151"/><rect x="414.8" y="213.8" width="18.1" height="6.9" fill="#b5de2b"/><rect x="432.6" y="213.8" width="21.7" height="6.9" fill="#cde11d"/></g>
<g clip-path="url(#cp1)" stroke="#fff" stroke-width="1.3" fill="none">
<line x1="310" y1="220" x2="454" y2="53.8"/>
<line x1="279.3" y1="220" x2="454" y2="80.7" stroke-dasharray="4.3 2.4"/>
</g>
<g fill="#fff"><circle cx="272.6" cy="194.1" r="2.7"/><circle cx="305.4" cy="191.4" r="2.7"/><circle cx="318.6" cy="189.3" r="2.7"/><circle cx="326.9" cy="188.9" r="2.7"/><circle cx="333.6" cy="186.2" r="2.7"/><circle cx="339.5" cy="182" r="2.7"/><circle cx="344.7" cy="180.5" r="2.7"/><circle cx="350" cy="176.3" r="2.7"/><circle cx="354.1" cy="174.2" r="2.7"/><circle cx="358.3" cy="169.4" r="2.7"/><circle cx="362.9" cy="166.7" r="2.7"/><circle cx="367.3" cy="162.7" r="2.7"/><circle cx="371.1" cy="156.4" r="2.7"/><circle cx="375.8" cy="149.2" r="2.7"/><circle cx="381.2" cy="141.4" r="2.7"/><circle cx="388.4" cy="130.4" r="2.7"/><circle cx="396.9" cy="116.9" r="2.7"/><circle cx="406.6" cy="99" r="2.7"/><circle cx="422" cy="82.7" r="2.7"/><circle cx="447.4" cy="67" r="2.7"/></g>
<rect x="246.6" y="3.5" width="207.40" height="216.6" fill="none" stroke="#1a1a1a" stroke-width="0.7"/>
<g stroke="#111" stroke-width="0.7"><line x1="322.74" y1="220.1" x2="322.74" y2="223.29999999999998"/><line x1="355.53" y1="220.1" x2="355.53" y2="223.29999999999998"/><line x1="388.32" y1="220.1" x2="388.32" y2="223.29999999999998"/><line x1="421.11" y1="220.1" x2="421.11" y2="223.29999999999998"/><line x1="440.29" y1="220.1" x2="440.29" y2="223.29999999999998"/><line x1="246.6" y1="220.1" x2="246.6" y2="221.9"/><line x1="279.39" y1="220.1" x2="279.39" y2="221.9"/><line x1="298.57" y1="220.1" x2="298.57" y2="221.9"/><line x1="312.18" y1="220.1" x2="312.18" y2="221.9"/><line x1="331.36" y1="220.1" x2="331.36" y2="221.9"/><line x1="338.66" y1="220.1" x2="338.66" y2="221.9"/><line x1="344.97" y1="220.1" x2="344.97" y2="221.9"/><line x1="350.55" y1="220.1" x2="350.55" y2="221.9"/><line x1="407.5" y1="220.1" x2="407.5" y2="221.9"/><line x1="431.67" y1="220.1" x2="431.67" y2="221.9"/><line x1="447.59" y1="220.1" x2="447.59" y2="221.9"/><line x1="453.9" y1="220.1" x2="453.9" y2="221.9"/></g>
<text x="324.1" y="235.2" text-anchor="middle">0.05</text>
<text x="357" y="235.2" text-anchor="middle">0.10</text>
<text x="389.9" y="235.2" text-anchor="middle">0.20</text>
<text x="420" y="235.2" text-anchor="middle">0.40</text>
<text x="441.8" y="235.2" text-anchor="middle">0.60</text>
<text x="350.8" y="249.4" text-anchor="middle">AI</text>
<rect x="250.2" y="7.9" width="78.8" height="35.1" fill="#fff" stroke="#111" stroke-width="1"/>
<text font-size="8.3" x="253.9" y="15.6">npoints: 133,976</text><text font-size="8.3" x="253.9" y="26.0"><tspan font-style="italic">S</tspan><tspan font-size="6.2" dy="1.9">full</tspan><tspan dy="-1.9"> = 0.40 ± 0.04</tspan></text><text font-size="8.3" x="253.9" y="37.7"><tspan font-style="italic">S</tspan><tspan font-size="6.2" dy="1.9">opt</tspan><tspan dy="-1.9"> = 0.57 ± 0.022</tspan></text>
<rect x="267.5" y="262.3" width="166.40" height="8.4" fill="url(#vg)" stroke="#111" stroke-width="0.7"/>
<line x1="267.5" y1="270.7" x2="267.5" y2="273.2" stroke="#111" stroke-width="0.7"/><text x="267.5" y="284.1" font-size="8.3" text-anchor="middle">0.00</text><line x1="291.57" y1="270.7" x2="291.57" y2="273.2" stroke="#111" stroke-width="0.7"/><text x="291.57" y="284.1" font-size="8.3" text-anchor="middle">0.01</text><line x1="315.64" y1="270.7" x2="315.64" y2="273.2" stroke="#111" stroke-width="0.7"/><text x="315.64" y="284.1" font-size="8.3" text-anchor="middle">0.02</text><line x1="339.71" y1="270.7" x2="339.71" y2="273.2" stroke="#111" stroke-width="0.7"/><text x="339.71" y="284.1" font-size="8.3" text-anchor="middle">0.03</text><line x1="363.78" y1="270.7" x2="363.78" y2="273.2" stroke="#111" stroke-width="0.7"/><text x="363.78" y="284.1" font-size="8.3" text-anchor="middle">0.04</text><line x1="387.85" y1="270.7" x2="387.85" y2="273.2" stroke="#111" stroke-width="0.7"/><text x="387.85" y="284.1" font-size="8.3" text-anchor="middle">0.05</text><line x1="411.92" y1="270.7" x2="411.92" y2="273.2" stroke="#111" stroke-width="0.7"/><text x="411.92" y="284.1" font-size="8.3" text-anchor="middle">0.06</text>
<g shape-rendering="crispEdges" clip-path="url(#cp2)"><rect x="454" y="3.3" width="44.8" height="10.8" fill="#d2e21b"/><rect x="498.5" y="3.3" width="14.6" height="10.8" fill="#d2e21b"/><rect x="512.8" y="3.3" width="9.3" height="10.8" fill="#d2e21b"/><rect x="521.8" y="3.3" width="7.3" height="10.8" fill="#d2e21b"/><rect x="528.8" y="3.3" width="6" height="10.8" fill="#d2e21b"/><rect x="534.5" y="3.3" width="5.5" height="10.8" fill="#dae319"/><rect x="539.7" y="3.3" width="5.1" height="10.8" fill="#dae319"/><rect x="544.5" y="3.3" width="4.8" height="10.8" fill="#d2e21b"/><rect x="549" y="3.3" width="4.6" height="10.8" fill="#d2e21b"/><rect x="553.3" y="3.3" width="5" height="10.8" fill="#cde11d"/><rect x="558" y="3.3" width="5.2" height="10.8" fill="#c5e021"/><rect x="562.9" y="3.3" width="4.9" height="10.8" fill="#a5db36"/><rect x="567.5" y="3.3" width="5.1" height="10.8" fill="#a5db36"/><rect x="572.3" y="3.3" width="6" height="10.8" fill="#90d743"/><rect x="578" y="3.3" width="6.8" height="10.8" fill="#3fbc73"/><rect x="584.5" y="3.3" width="7.5" height="10.8" fill="#60ca60"/><rect x="591.7" y="3.3" width="9.6" height="10.8" fill="#3fbc73"/><rect x="601" y="3.3" width="12.8" height="10.8" fill="#1f9e89"/><rect x="613.5" y="3.3" width="21.2" height="10.8" fill="#2b758e"/><rect x="634.4" y="3.3" width="27.2" height="10.8" fill="#2e6e8e"/><rect x="454" y="13.8" width="44.8" height="10.3" fill="#d2e21b"/><rect x="498.5" y="13.8" width="14.6" height="10.3" fill="#d2e21b"/><rect x="512.8" y="13.8" width="9.3" height="10.3" fill="#d2e21b"/><rect x="521.8" y="13.8" width="7.3" height="10.3" fill="#d2e21b"/><rect x="528.8" y="13.8" width="6" height="10.3" fill="#d2e21b"/><rect x="534.5" y="13.8" width="5.5" height="10.3" fill="#dae319"/><rect x="539.7" y="13.8" width="5.1" height="10.3" fill="#dae319"/><rect x="544.5" y="13.8" width="4.8" height="10.3" fill="#b5de2b"/><rect x="549" y="13.8" width="4.6" height="10.3" fill="#c5e021"/><rect x="553.3" y="13.8" width="5" height="10.3" fill="#b5de2b"/><rect x="558" y="13.8" width="5.2" height="10.3" fill="#b5de2b"/><rect x="562.9" y="13.8" width="4.9" height="10.3" fill="#a0da39"/><rect x="567.5" y="13.8" width="5.1" height="10.3" fill="#90d743"/><rect x="572.3" y="13.8" width="6" height="10.3" fill="#6ece58"/><rect x="578" y="13.8" width="6.8" height="10.3" fill="#2db27d"/><rect x="584.5" y="13.8" width="7.5" height="10.3" fill="#35b779"/><rect x="591.7" y="13.8" width="9.6" height="10.3" fill="#25ab82"/><rect x="601" y="13.8" width="12.8" height="10.3" fill="#277e8e"/><rect x="613.5" y="13.8" width="21.2" height="10.3" fill="#31688e"/><rect x="634.4" y="13.8" width="27.2" height="10.3" fill="#424086"/><rect x="454" y="23.8" width="44.8" height="10.3" fill="#d2e21b"/><rect x="498.5" y="23.8" width="14.6" height="10.3" fill="#d2e21b"/><rect x="512.8" y="23.8" width="9.3" height="10.3" fill="#d2e21b"/><rect x="521.8" y="23.8" width="7.3" height="10.3" fill="#d2e21b"/><rect x="528.8" y="23.8" width="6" height="10.3" fill="#d2e21b"/><rect x="534.5" y="23.8" width="5.5" height="10.3" fill="#dae319"/><rect x="539.7" y="23.8" width="5.1" height="10.3" fill="#c5e021"/><rect x="544.5" y="23.8" width="4.8" height="10.3" fill="#b5de2b"/><rect x="549" y="23.8" width="4.6" height="10.3" fill="#eae51a"/><rect x="553.3" y="23.8" width="5" height="10.3" fill="#b5de2b"/><rect x="558" y="23.8" width="5.2" height="10.3" fill="#a5db36"/><rect x="562.9" y="23.8" width="4.9" height="10.3" fill="#90d743"/><rect x="567.5" y="23.8" width="5.1" height="10.3" fill="#7ad151"/><rect x="572.3" y="23.8" width="6" height="10.3" fill="#60ca60"/><rect x="578" y="23.8" width="6.8" height="10.3" fill="#22a884"/><rect x="584.5" y="23.8" width="7.5" height="10.3" fill="#4ec36b"/><rect x="591.7" y="23.8" width="9.6" height="10.3" fill="#1f988b"/><rect x="601" y="23.8" width="12.8" height="10.3" fill="#2b758e"/><rect x="613.5" y="23.8" width="21.2" height="10.3" fill="#3e4989"/><rect x="634.4" y="23.8" width="27.2" height="10.3" fill="#472f7d"/><rect x="454" y="33.8" width="44.8" height="10.3" fill="#d2e21b"/><rect x="498.5" y="33.8" width="14.6" height="10.3" fill="#d2e21b"/><rect x="512.8" y="33.8" width="9.3" height="10.3" fill="#d2e21b"/><rect x="521.8" y="33.8" width="7.3" height="10.3" fill="#d2e21b"/><rect x="528.8" y="33.8" width="6" height="10.3" fill="#d2e21b"/><rect x="534.5" y="33.8" width="5.5" height="10.3" fill="#b5de2b"/><rect x="539.7" y="33.8" width="5.1" height="10.3" fill="#a0da39"/><rect x="544.5" y="33.8" width="4.8" height="10.3" fill="#90d743"/><rect x="549" y="33.8" width="4.6" height="10.3" fill="#90d743"/><rect x="553.3" y="33.8" width="5" height="10.3" fill="#7ad151"/><rect x="558" y="33.8" width="5.2" height="10.3" fill="#6ece58"/><rect x="562.9" y="33.8" width="4.9" height="10.3" fill="#60ca60"/><rect x="567.5" y="33.8" width="5.1" height="10.3" fill="#5ac864"/><rect x="572.3" y="33.8" width="6" height="10.3" fill="#4ec36b"/><rect x="578" y="33.8" width="6.8" height="10.3" fill="#2db27d"/><rect x="584.5" y="33.8" width="7.5" height="10.3" fill="#26828e"/><rect x="591.7" y="33.8" width="9.6" height="10.3" fill="#21918c"/><rect x="601" y="33.8" width="12.8" height="10.3" fill="#2b758e"/><rect x="613.5" y="33.8" width="21.2" height="10.3" fill="#46085c"/><rect x="634.4" y="33.8" width="27.2" height="10.3" fill="#440154"/><rect x="454" y="43.8" width="44.8" height="10.3" fill="#dae319"/><rect x="498.5" y="43.8" width="14.6" height="10.3" fill="#90d743"/><rect x="512.8" y="43.8" width="9.3" height="10.3" fill="#a0da39"/><rect x="521.8" y="43.8" width="7.3" height="10.3" fill="#a0da39"/><rect x="528.8" y="43.8" width="6" height="10.3" fill="#addc30"/><rect x="534.5" y="43.8" width="5.5" height="10.3" fill="#a0da39"/><rect x="539.7" y="43.8" width="5.1" height="10.3" fill="#90d743"/><rect x="544.5" y="43.8" width="4.8" height="10.3" fill="#6ece58"/><rect x="549" y="43.8" width="4.6" height="10.3" fill="#90d743"/><rect x="553.3" y="43.8" width="5" height="10.3" fill="#6ece58"/><rect x="558" y="43.8" width="5.2" height="10.3" fill="#6ece58"/><rect x="562.9" y="43.8" width="4.9" height="10.3" fill="#4ec36b"/><rect x="567.5" y="43.8" width="5.1" height="10.3" fill="#4ec36b"/><rect x="572.3" y="43.8" width="6" height="10.3" fill="#35b779"/><rect x="578" y="43.8" width="6.8" height="10.3" fill="#1f9e89"/><rect x="584.5" y="43.8" width="7.5" height="10.3" fill="#21918c"/><rect x="591.7" y="43.8" width="9.6" height="10.3" fill="#26828e"/><rect x="601" y="43.8" width="12.8" height="10.3" fill="#375a8c"/><rect x="613.5" y="43.8" width="21.2" height="10.3" fill="#482878"/><rect x="634.4" y="43.8" width="27.2" height="10.3" fill="#440154"/><rect x="454" y="53.8" width="44.8" height="10.3" fill="#b5de2b"/><rect x="498.5" y="53.8" width="14.6" height="10.3" fill="#d2e21b"/><rect x="512.8" y="53.8" width="9.3" height="10.3" fill="#b5de2b"/><rect x="521.8" y="53.8" width="7.3" height="10.3" fill="#a5db36"/><rect x="528.8" y="53.8" width="6" height="10.3" fill="#a5db36"/><rect x="534.5" y="53.8" width="5.5" height="10.3" fill="#a0da39"/><rect x="539.7" y="53.8" width="5.1" height="10.3" fill="#90d743"/><rect x="544.5" y="53.8" width="4.8" height="10.3" fill="#7ad151"/><rect x="549" y="53.8" width="4.6" height="10.3" fill="#6ece58"/><rect x="553.3" y="53.8" width="5" height="10.3" fill="#3fbc73"/><rect x="558" y="53.8" width="5.2" height="10.3" fill="#4ec36b"/><rect x="562.9" y="53.8" width="4.9" height="10.3" fill="#60ca60"/><rect x="567.5" y="53.8" width="5.1" height="10.3" fill="#35b779"/><rect x="572.3" y="53.8" width="6" height="10.3" fill="#4ec36b"/><rect x="578" y="53.8" width="6.8" height="10.3" fill="#25ab82"/><rect x="584.5" y="53.8" width="7.5" height="10.3" fill="#2db27d"/><rect x="591.7" y="53.8" width="9.6" height="10.3" fill="#26828e"/><rect x="601" y="53.8" width="12.8" height="10.3" fill="#3c508b"/><rect x="613.5" y="53.8" width="21.2" height="10.3" fill="#481c6e"/><rect x="634.4" y="53.8" width="27.2" height="10.3" fill="#46085c"/><rect x="454" y="63.8" width="44.8" height="10.3" fill="#dae319"/><rect x="498.5" y="63.8" width="14.6" height="10.3" fill="#b5de2b"/><rect x="512.8" y="63.8" width="9.3" height="10.3" fill="#90d743"/><rect x="521.8" y="63.8" width="7.3" height="10.3" fill="#90d743"/><rect x="528.8" y="63.8" width="6" height="10.3" fill="#89d548"/><rect x="534.5" y="63.8" width="5.5" height="10.3" fill="#7ad151"/><rect x="539.7" y="63.8" width="5.1" height="10.3" fill="#6ece58"/><rect x="544.5" y="63.8" width="4.8" height="10.3" fill="#4ec36b"/><rect x="549" y="63.8" width="4.6" height="10.3" fill="#60ca60"/><rect x="553.3" y="63.8" width="5" height="10.3" fill="#35b779"/><rect x="558" y="63.8" width="5.2" height="10.3" fill="#2db27d"/><rect x="562.9" y="63.8" width="4.9" height="10.3" fill="#25ab82"/><rect x="567.5" y="63.8" width="5.1" height="10.3" fill="#1fa287"/><rect x="572.3" y="63.8" width="6" height="10.3" fill="#1f988b"/><rect x="578" y="63.8" width="6.8" height="10.3" fill="#26828e"/><rect x="584.5" y="63.8" width="7.5" height="10.3" fill="#2e6e8e"/><rect x="591.7" y="63.8" width="9.6" height="10.3" fill="#355f8d"/><rect x="601" y="63.8" width="12.8" height="10.3" fill="#443983"/><rect x="613.5" y="63.8" width="21.2" height="10.3" fill="#46085c"/><rect x="634.4" y="63.8" width="27.2" height="10.3" fill="#481a6c"/><rect x="454" y="73.8" width="44.8" height="10.3" fill="#98d83e"/><rect x="498.5" y="73.8" width="14.6" height="10.3" fill="#6ece58"/><rect x="512.8" y="73.8" width="9.3" height="10.3" fill="#60ca60"/><rect x="521.8" y="73.8" width="7.3" height="10.3" fill="#4ec36b"/><rect x="528.8" y="73.8" width="6" height="10.3" fill="#4ec36b"/><rect x="534.5" y="73.8" width="5.5" height="10.3" fill="#3fbc73"/><rect x="539.7" y="73.8" width="5.1" height="10.3" fill="#35b779"/><rect x="544.5" y="73.8" width="4.8" height="10.3" fill="#35b779"/><rect x="549" y="73.8" width="4.6" height="10.3" fill="#25ab82"/><rect x="553.3" y="73.8" width="5" height="10.3" fill="#25ab82"/><rect x="558" y="73.8" width="5.2" height="10.3" fill="#1f9e89"/><rect x="562.9" y="73.8" width="4.9" height="10.3" fill="#1f988b"/><rect x="567.5" y="73.8" width="5.1" height="10.3" fill="#21918c"/><rect x="572.3" y="73.8" width="6" height="10.3" fill="#26828e"/><rect x="578" y="73.8" width="6.8" height="10.3" fill="#2b758e"/><rect x="584.5" y="73.8" width="7.5" height="10.3" fill="#33628d"/><rect x="591.7" y="73.8" width="9.6" height="10.3" fill="#375a8c"/><rect x="601" y="73.8" width="12.8" height="10.3" fill="#443983"/><rect x="613.5" y="73.8" width="21.2" height="10.3" fill="#482878"/><rect x="634.4" y="73.8" width="27.2" height="10.3" fill="#481668"/><rect x="454" y="83.8" width="44.8" height="10.3" fill="#73d056"/><rect x="498.5" y="83.8" width="14.6" height="10.3" fill="#4ec36b"/><rect x="512.8" y="83.8" width="9.3" height="10.3" fill="#5ac864"/><rect x="521.8" y="83.8" width="7.3" height="10.3" fill="#2db27d"/><rect x="528.8" y="83.8" width="6" height="10.3" fill="#4ec36b"/><rect x="534.5" y="83.8" width="5.5" height="10.3" fill="#2db27d"/><rect x="539.7" y="83.8" width="5.1" height="10.3" fill="#35b779"/><rect x="544.5" y="83.8" width="4.8" height="10.3" fill="#25ab82"/><rect x="549" y="83.8" width="4.6" height="10.3" fill="#2ab07f"/><rect x="553.3" y="83.8" width="5" height="10.3" fill="#1fa287"/><rect x="558" y="83.8" width="5.2" height="10.3" fill="#1f9e89"/><rect x="562.9" y="83.8" width="4.9" height="10.3" fill="#1f988b"/><rect x="567.5" y="83.8" width="5.1" height="10.3" fill="#228b8d"/><rect x="572.3" y="83.8" width="6" height="10.3" fill="#2b758e"/><rect x="578" y="83.8" width="6.8" height="10.3" fill="#2e6e8e"/><rect x="584.5" y="83.8" width="7.5" height="10.3" fill="#355f8d"/><rect x="591.7" y="83.8" width="9.6" height="10.3" fill="#3c508b"/><rect x="601" y="83.8" width="12.8" height="10.3" fill="#3e4989"/><rect x="613.5" y="83.8" width="21.2" height="10.3" fill="#472f7d"/><rect x="634.4" y="83.8" width="27.2" height="10.3" fill="#472f7d"/><rect x="454" y="93.8" width="44.8" height="10.3" fill="#73d056"/><rect x="498.5" y="93.8" width="14.6" height="10.3" fill="#35b779"/><rect x="512.8" y="93.8" width="9.3" height="10.3" fill="#35b779"/><rect x="521.8" y="93.8" width="7.3" height="10.3" fill="#35b779"/><rect x="528.8" y="93.8" width="6" height="10.3" fill="#2db27d"/><rect x="534.5" y="93.8" width="5.5" height="10.3" fill="#25ab82"/><rect x="539.7" y="93.8" width="5.1" height="10.3" fill="#25ab82"/><rect x="544.5" y="93.8" width="4.8" height="10.3" fill="#1fa287"/><rect x="549" y="93.8" width="4.6" height="10.3" fill="#1f9e89"/><rect x="553.3" y="93.8" width="5" height="10.3" fill="#1f988b"/><rect x="558" y="93.8" width="5.2" height="10.3" fill="#218e8d"/><rect x="562.9" y="93.8" width="4.9" height="10.3" fill="#2b758e"/><rect x="567.5" y="93.8" width="5.1" height="10.3" fill="#297b8e"/><rect x="572.3" y="93.8" width="6" height="10.3" fill="#31688e"/><rect x="578" y="93.8" width="6.8" height="10.3" fill="#355f8d"/><rect x="584.5" y="93.8" width="7.5" height="10.3" fill="#3c508b"/><rect x="591.7" y="93.8" width="9.6" height="10.3" fill="#3e4989"/><rect x="601" y="93.8" width="12.8" height="10.3" fill="#424086"/><rect x="613.5" y="93.8" width="21.2" height="10.3" fill="#424086"/><rect x="634.4" y="93.8" width="27.2" height="10.3" fill="#443983"/><rect x="454" y="103.8" width="44.8" height="10.3" fill="#1fa287"/><rect x="498.5" y="103.8" width="14.6" height="10.3" fill="#1fa287"/><rect x="512.8" y="103.8" width="9.3" height="10.3" fill="#21918c"/><rect x="521.8" y="103.8" width="7.3" height="10.3" fill="#1f9e89"/><rect x="528.8" y="103.8" width="6" height="10.3" fill="#1f988b"/><rect x="534.5" y="103.8" width="5.5" height="10.3" fill="#21918c"/><rect x="539.7" y="103.8" width="5.1" height="10.3" fill="#26828e"/><rect x="544.5" y="103.8" width="4.8" height="10.3" fill="#26828e"/><rect x="549" y="103.8" width="4.6" height="10.3" fill="#2b758e"/><rect x="553.3" y="103.8" width="5" height="10.3" fill="#2b758e"/><rect x="558" y="103.8" width="5.2" height="10.3" fill="#2c728e"/><rect x="562.9" y="103.8" width="4.9" height="10.3" fill="#31688e"/><rect x="567.5" y="103.8" width="5.1" height="10.3" fill="#3c508b"/><rect x="572.3" y="103.8" width="6" height="10.3" fill="#355f8d"/><rect x="578" y="103.8" width="6.8" height="10.3" fill="#375a8c"/><rect x="584.5" y="103.8" width="7.5" height="10.3" fill="#443983"/><rect x="591.7" y="103.8" width="9.6" height="10.3" fill="#472f7d"/><rect x="601" y="103.8" width="12.8" height="10.3" fill="#424086"/><rect x="613.5" y="103.8" width="21.2" height="10.3" fill="#3c508b"/><rect x="634.4" y="103.8" width="27.2" height="10.3" fill="#3e4989"/><rect x="454" y="113.8" width="44.8" height="10.3" fill="#1f958b"/><rect x="498.5" y="113.8" width="14.6" height="10.3" fill="#21918c"/><rect x="512.8" y="113.8" width="9.3" height="10.3" fill="#2b758e"/><rect x="521.8" y="113.8" width="7.3" height="10.3" fill="#26828e"/><rect x="528.8" y="113.8" width="6" height="10.3" fill="#26828e"/><rect x="534.5" y="113.8" width="5.5" height="10.3" fill="#31688e"/><rect x="539.7" y="113.8" width="5.1" height="10.3" fill="#2b758e"/><rect x="544.5" y="113.8" width="4.8" height="10.3" fill="#31688e"/><rect x="549" y="113.8" width="4.6" height="10.3" fill="#31688e"/><rect x="553.3" y="113.8" width="5" height="10.3" fill="#375a8c"/><rect x="558" y="113.8" width="5.2" height="10.3" fill="#375a8c"/><rect x="562.9" y="113.8" width="4.9" height="10.3" fill="#3c508b"/><rect x="567.5" y="113.8" width="5.1" height="10.3" fill="#3e4989"/><rect x="572.3" y="113.8" width="6" height="10.3" fill="#414487"/><rect x="578" y="113.8" width="6.8" height="10.3" fill="#424086"/><rect x="584.5" y="113.8" width="7.5" height="10.3" fill="#482878"/><rect x="591.7" y="113.8" width="9.6" height="10.3" fill="#472f7d"/><rect x="601" y="113.8" width="12.8" height="10.3" fill="#3e4989"/><rect x="613.5" y="113.8" width="21.2" height="10.3" fill="#375a8c"/><rect x="634.4" y="113.8" width="27.2" height="10.3" fill="#375a8c"/><rect x="454" y="123.8" width="44.8" height="10.3" fill="#2a788e"/><rect x="498.5" y="123.8" width="14.6" height="10.3" fill="#2a788e"/><rect x="512.8" y="123.8" width="9.3" height="10.3" fill="#375a8c"/><rect x="521.8" y="123.8" width="7.3" height="10.3" fill="#39568c"/><rect x="528.8" y="123.8" width="6" height="10.3" fill="#365c8d"/><rect x="534.5" y="123.8" width="5.5" height="10.3" fill="#375a8c"/><rect x="539.7" y="123.8" width="5.1" height="10.3" fill="#3a538b"/><rect x="544.5" y="123.8" width="4.8" height="10.3" fill="#3c508b"/><rect x="549" y="123.8" width="4.6" height="10.3" fill="#440154"/><rect x="553.3" y="123.8" width="5" height="10.3" fill="#3d4d8a"/><rect x="558" y="123.8" width="5.2" height="10.3" fill="#3e4989"/><rect x="562.9" y="123.8" width="4.9" height="10.3" fill="#443983"/><rect x="567.5" y="123.8" width="5.1" height="10.3" fill="#482878"/><rect x="572.3" y="123.8" width="6" height="10.3" fill="#482878"/><rect x="578" y="123.8" width="6.8" height="10.3" fill="#472f7d"/><rect x="584.5" y="123.8" width="7.5" height="10.3" fill="#472f7d"/><rect x="591.7" y="123.8" width="9.6" height="10.3" fill="#424086"/><rect x="601" y="123.8" width="12.8" height="10.3" fill="#3d4d8a"/><rect x="613.5" y="123.8" width="21.2" height="10.3" fill="#375a8c"/><rect x="634.4" y="123.8" width="27.2" height="10.3" fill="#2c728e"/><rect x="454" y="133.8" width="44.8" height="10.3" fill="#2b758e"/><rect x="498.5" y="133.8" width="14.6" height="10.3" fill="#375a8c"/><rect x="512.8" y="133.8" width="9.3" height="10.3" fill="#355f8d"/><rect x="521.8" y="133.8" width="7.3" height="10.3" fill="#414487"/><rect x="528.8" y="133.8" width="6" height="10.3" fill="#414487"/><rect x="534.5" y="133.8" width="5.5" height="10.3" fill="#414487"/><rect x="539.7" y="133.8" width="5.1" height="10.3" fill="#3c508b"/><rect x="544.5" y="133.8" width="4.8" height="10.3" fill="#443983"/><rect x="549" y="133.8" width="4.6" height="10.3" fill="#424086"/><rect x="553.3" y="133.8" width="5" height="10.3" fill="#46327e"/><rect x="558" y="133.8" width="5.2" height="10.3" fill="#472f7d"/><rect x="562.9" y="133.8" width="4.9" height="10.3" fill="#481668"/><rect x="567.5" y="133.8" width="5.1" height="10.3" fill="#46327e"/><rect x="572.3" y="133.8" width="6" height="10.3" fill="#482878"/><rect x="578" y="133.8" width="6.8" height="10.3" fill="#472f7d"/><rect x="584.5" y="133.8" width="7.5" height="10.3" fill="#433d84"/><rect x="591.7" y="133.8" width="9.6" height="10.3" fill="#3c508b"/><rect x="601" y="133.8" width="12.8" height="10.3" fill="#365c8d"/><rect x="613.5" y="133.8" width="21.2" height="10.3" fill="#297b8e"/><rect x="634.4" y="133.8" width="27.2" height="10.3" fill="#23888e"/><rect x="454" y="143.8" width="44.8" height="10.3" fill="#414487"/><rect x="498.5" y="143.8" width="14.6" height="10.3" fill="#375a8c"/><rect x="512.8" y="143.8" width="9.3" height="10.3" fill="#443983"/><rect x="521.8" y="143.8" width="7.3" height="10.3" fill="#482475"/><rect x="528.8" y="143.8" width="6" height="10.3" fill="#414487"/><rect x="534.5" y="143.8" width="5.5" height="10.3" fill="#46327e"/><rect x="539.7" y="143.8" width="5.1" height="10.3" fill="#482071"/><rect x="544.5" y="143.8" width="4.8" height="10.3" fill="#453581"/><rect x="549" y="143.8" width="4.6" height="10.3" fill="#472c7a"/><rect x="553.3" y="143.8" width="5" height="10.3" fill="#481c6e"/><rect x="558" y="143.8" width="5.2" height="10.3" fill="#481668"/><rect x="562.9" y="143.8" width="4.9" height="10.3" fill="#46327e"/><rect x="567.5" y="143.8" width="5.1" height="10.3" fill="#472f7d"/><rect x="572.3" y="143.8" width="6" height="10.3" fill="#46327e"/><rect x="578" y="143.8" width="6.8" height="10.3" fill="#472f7d"/><rect x="584.5" y="143.8" width="7.5" height="10.3" fill="#481c6e"/><rect x="591.7" y="143.8" width="9.6" height="10.3" fill="#3c508b"/><rect x="601" y="143.8" width="12.8" height="10.3" fill="#2e6e8e"/><rect x="613.5" y="143.8" width="21.2" height="10.3" fill="#26828e"/><rect x="634.4" y="143.8" width="27.2" height="10.3" fill="#1f988b"/><rect x="454" y="153.8" width="44.8" height="10.3" fill="#355f8d"/><rect x="498.5" y="153.8" width="14.6" height="10.3" fill="#482878"/><rect x="512.8" y="153.8" width="9.3" height="10.3" fill="#472f7d"/><rect x="521.8" y="153.8" width="7.3" height="10.3" fill="#46327e"/><rect x="528.8" y="153.8" width="6" height="10.3" fill="#46085c"/><rect x="534.5" y="153.8" width="5.5" height="10.3" fill="#472c7a"/><rect x="539.7" y="153.8" width="5.1" height="10.3" fill="#482475"/><rect x="544.5" y="153.8" width="4.8" height="10.3" fill="#46085c"/><rect x="549" y="153.8" width="4.6" height="10.3" fill="#482475"/><rect x="553.3" y="153.8" width="5" height="10.3" fill="#482878"/><rect x="558" y="153.8" width="5.2" height="10.3" fill="#472c7a"/><rect x="562.9" y="153.8" width="4.9" height="10.3" fill="#472f7d"/><rect x="567.5" y="153.8" width="5.1" height="10.3" fill="#482475"/><rect x="572.3" y="153.8" width="6" height="10.3" fill="#443983"/><rect x="578" y="153.8" width="6.8" height="10.3" fill="#433d84"/><rect x="584.5" y="153.8" width="7.5" height="10.3" fill="#3e4989"/><rect x="591.7" y="153.8" width="9.6" height="10.3" fill="#355f8d"/><rect x="601" y="153.8" width="12.8" height="10.3" fill="#2b758e"/><rect x="613.5" y="153.8" width="21.2" height="10.3" fill="#228b8d"/><rect x="634.4" y="153.8" width="27.2" height="10.3" fill="#2ab07f"/><rect x="454" y="163.8" width="44.8" height="10.3" fill="#443983"/><rect x="498.5" y="163.8" width="14.6" height="10.3" fill="#443983"/><rect x="512.8" y="163.8" width="9.3" height="10.3" fill="#481c6e"/><rect x="521.8" y="163.8" width="7.3" height="10.3" fill="#481668"/><rect x="528.8" y="163.8" width="6" height="10.3" fill="#481668"/><rect x="534.5" y="163.8" width="5.5" height="10.3" fill="#481c6e"/><rect x="539.7" y="163.8" width="5.1" height="10.3" fill="#481668"/><rect x="544.5" y="163.8" width="4.8" height="10.3" fill="#482878"/><rect x="549" y="163.8" width="4.6" height="10.3" fill="#481668"/><rect x="553.3" y="163.8" width="5" height="10.3" fill="#482878"/><rect x="558" y="163.8" width="5.2" height="10.3" fill="#482878"/><rect x="562.9" y="163.8" width="4.9" height="10.3" fill="#472f7d"/><rect x="567.5" y="163.8" width="5.1" height="10.3" fill="#472f7d"/><rect x="572.3" y="163.8" width="6" height="10.3" fill="#481a6c"/><rect x="578" y="163.8" width="6.8" height="10.3" fill="#3e4989"/><rect x="584.5" y="163.8" width="7.5" height="10.3" fill="#3e4989"/><rect x="591.7" y="163.8" width="9.6" height="10.3" fill="#355f8d"/><rect x="601" y="163.8" width="12.8" height="10.3" fill="#26828e"/><rect x="613.5" y="163.8" width="21.2" height="10.3" fill="#1f988b"/><rect x="634.4" y="163.8" width="27.2" height="10.3" fill="#2db27d"/><rect x="454" y="173.8" width="44.8" height="10.3" fill="#482878"/><rect x="498.5" y="173.8" width="14.6" height="10.3" fill="#482878"/><rect x="512.8" y="173.8" width="9.3" height="10.3" fill="#46085c"/><rect x="521.8" y="173.8" width="7.3" height="10.3" fill="#46085c"/><rect x="528.8" y="173.8" width="6" height="10.3" fill="#481668"/><rect x="534.5" y="173.8" width="5.5" height="10.3" fill="#481668"/><rect x="539.7" y="173.8" width="5.1" height="10.3" fill="#481668"/><rect x="544.5" y="173.8" width="4.8" height="10.3" fill="#481c6e"/><rect x="549" y="173.8" width="4.6" height="10.3" fill="#481c6e"/><rect x="553.3" y="173.8" width="5" height="10.3" fill="#482071"/><rect x="558" y="173.8" width="5.2" height="10.3" fill="#443983"/><rect x="562.9" y="173.8" width="4.9" height="10.3" fill="#472f7d"/><rect x="567.5" y="173.8" width="5.1" height="10.3" fill="#46085c"/><rect x="572.3" y="173.8" width="6" height="10.3" fill="#424086"/><rect x="578" y="173.8" width="6.8" height="10.3" fill="#3e4989"/><rect x="584.5" y="173.8" width="7.5" height="10.3" fill="#375a8c"/><rect x="591.7" y="173.8" width="9.6" height="10.3" fill="#297b8e"/><rect x="601" y="173.8" width="12.8" height="10.3" fill="#26828e"/><rect x="613.5" y="173.8" width="21.2" height="10.3" fill="#1f9e89"/><rect x="634.4" y="173.8" width="27.2" height="10.3" fill="#35b779"/><rect x="454" y="183.8" width="44.8" height="10.3" fill="#481a6c"/><rect x="498.5" y="183.8" width="14.6" height="10.3" fill="#46085c"/><rect x="512.8" y="183.8" width="9.3" height="10.3" fill="#481668"/><rect x="521.8" y="183.8" width="7.3" height="10.3" fill="#470d60"/><rect x="528.8" y="183.8" width="6" height="10.3" fill="#470d60"/><rect x="534.5" y="183.8" width="5.5" height="10.3" fill="#481a6c"/><rect x="539.7" y="183.8" width="5.1" height="10.3" fill="#481668"/><rect x="544.5" y="183.8" width="4.8" height="10.3" fill="#482878"/><rect x="549" y="183.8" width="4.6" height="10.3" fill="#482071"/><rect x="553.3" y="183.8" width="5" height="10.3" fill="#46327e"/><rect x="558" y="183.8" width="5.2" height="10.3" fill="#443983"/><rect x="562.9" y="183.8" width="4.9" height="10.3" fill="#482878"/><rect x="567.5" y="183.8" width="5.1" height="10.3" fill="#424086"/><rect x="572.3" y="183.8" width="6" height="10.3" fill="#472f7d"/><rect x="578" y="183.8" width="6.8" height="10.3" fill="#443983"/><rect x="584.5" y="183.8" width="7.5" height="10.3" fill="#31688e"/><rect x="591.7" y="183.8" width="9.6" height="10.3" fill="#26828e"/><rect x="601" y="183.8" width="12.8" height="10.3" fill="#2ab07f"/><rect x="613.5" y="183.8" width="21.2" height="10.3" fill="#35b779"/><rect x="634.4" y="183.8" width="27.2" height="10.3" fill="#60ca60"/><rect x="454" y="193.8" width="44.8" height="10.3" fill="#46085c"/><rect x="498.5" y="193.8" width="14.6" height="10.3" fill="#46085c"/><rect x="512.8" y="193.8" width="9.3" height="10.3" fill="#46085c"/><rect x="521.8" y="193.8" width="7.3" height="10.3" fill="#46085c"/><rect x="528.8" y="193.8" width="6" height="10.3" fill="#481668"/><rect x="534.5" y="193.8" width="5.5" height="10.3" fill="#481c6e"/><rect x="539.7" y="193.8" width="5.1" height="10.3" fill="#481668"/><rect x="544.5" y="193.8" width="4.8" height="10.3" fill="#482878"/><rect x="549" y="193.8" width="4.6" height="10.3" fill="#481668"/><rect x="553.3" y="193.8" width="5" height="10.3" fill="#443983"/><rect x="558" y="193.8" width="5.2" height="10.3" fill="#482878"/><rect x="562.9" y="193.8" width="4.9" height="10.3" fill="#443983"/><rect x="567.5" y="193.8" width="5.1" height="10.3" fill="#472f7d"/><rect x="572.3" y="193.8" width="6" height="10.3" fill="#3c508b"/><rect x="578" y="193.8" width="6.8" height="10.3" fill="#2b758e"/><rect x="584.5" y="193.8" width="7.5" height="10.3" fill="#375a8c"/><rect x="591.7" y="193.8" width="9.6" height="10.3" fill="#26828e"/><rect x="601" y="193.8" width="12.8" height="10.3" fill="#1f958b"/><rect x="613.5" y="193.8" width="21.2" height="10.3" fill="#5ac864"/><rect x="634.4" y="193.8" width="27.2" height="10.3" fill="#6ece58"/><rect x="454" y="203.8" width="44.8" height="10.3" fill="#440154"/><rect x="498.5" y="203.8" width="14.6" height="10.3" fill="#440154"/><rect x="512.8" y="203.8" width="9.3" height="10.3" fill="#46085c"/><rect x="521.8" y="203.8" width="7.3" height="10.3" fill="#46085c"/><rect x="528.8" y="203.8" width="6" height="10.3" fill="#481c6e"/><rect x="534.5" y="203.8" width="5.5" height="10.3" fill="#481668"/><rect x="539.7" y="203.8" width="5.1" height="10.3" fill="#482878"/><rect x="544.5" y="203.8" width="4.8" height="10.3" fill="#481668"/><rect x="549" y="203.8" width="4.6" height="10.3" fill="#443983"/><rect x="553.3" y="203.8" width="5" height="10.3" fill="#424086"/><rect x="558" y="203.8" width="5.2" height="10.3" fill="#3e4989"/><rect x="562.9" y="203.8" width="4.9" height="10.3" fill="#3c508b"/><rect x="567.5" y="203.8" width="5.1" height="10.3" fill="#375a8c"/><rect x="572.3" y="203.8" width="6" height="10.3" fill="#31688e"/><rect x="578" y="203.8" width="6.8" height="10.3" fill="#2b758e"/><rect x="584.5" y="203.8" width="7.5" height="10.3" fill="#297b8e"/><rect x="591.7" y="203.8" width="9.6" height="10.3" fill="#1fa287"/><rect x="601" y="203.8" width="12.8" height="10.3" fill="#25ab82"/><rect x="613.5" y="203.8" width="21.2" height="10.3" fill="#3fbc73"/><rect x="634.4" y="203.8" width="27.2" height="10.3" fill="#6ece58"/><rect x="454" y="213.8" width="44.8" height="6.9" fill="#440154"/><rect x="498.5" y="213.8" width="14.6" height="6.9" fill="#440154"/><rect x="512.8" y="213.8" width="9.3" height="6.9" fill="#46085c"/><rect x="521.8" y="213.8" width="7.3" height="6.9" fill="#481668"/><rect x="528.8" y="213.8" width="6" height="6.9" fill="#482878"/><rect x="534.5" y="213.8" width="5.5" height="6.9" fill="#375a8c"/><rect x="539.7" y="213.8" width="5.1" height="6.9" fill="#443983"/><rect x="544.5" y="213.8" width="4.8" height="6.9" fill="#472f7d"/><rect x="549" y="213.8" width="4.6" height="6.9" fill="#3e4989"/><rect x="553.3" y="213.8" width="5" height="6.9" fill="#3c508b"/><rect x="558" y="213.8" width="5.2" height="6.9" fill="#375a8c"/><rect x="562.9" y="213.8" width="4.9" height="6.9" fill="#355f8d"/><rect x="567.5" y="213.8" width="5.1" height="6.9" fill="#2e6e8e"/><rect x="572.3" y="213.8" width="6" height="6.9" fill="#2b758e"/><rect x="578" y="213.8" width="6.8" height="6.9" fill="#1f9e89"/><rect x="584.5" y="213.8" width="7.5" height="6.9" fill="#26828e"/><rect x="591.7" y="213.8" width="9.6" height="6.9" fill="#2ab07f"/><rect x="601" y="213.8" width="12.8" height="6.9" fill="#6ece58"/><rect x="613.5" y="213.8" width="21.2" height="6.9" fill="#a5db36"/><rect x="634.4" y="213.8" width="27.2" height="6.9" fill="#bddf26"/></g>
<g clip-path="url(#cp2)" stroke="#fff" stroke-width="1.3" fill="none">
<line x1="499.9" y1="220" x2="661.3" y2="49.2"/>
<line x1="485" y1="220" x2="661.3" y2="67.2" stroke-dasharray="4.3 2.4"/>
</g>
<g fill="#fff"><circle cx="485.7" cy="202.7" r="2.7"/><circle cx="506.6" cy="194.4" r="2.7"/><circle cx="517.7" cy="187.7" r="2.7"/><circle cx="524.8" cy="184.5" r="2.7"/><circle cx="531.7" cy="182.4" r="2.7"/><circle cx="536.9" cy="179.9" r="2.7"/><circle cx="542.2" cy="177.2" r="2.7"/><circle cx="546.8" cy="173" r="2.7"/><circle cx="551.2" cy="170.3" r="2.7"/><circle cx="555.4" cy="169.9" r="2.7"/><circle cx="560.6" cy="163.6" r="2.7"/><circle cx="565.2" cy="160.9" r="2.7"/><circle cx="569.8" cy="153.1" r="2.7"/><circle cx="574.8" cy="149.6" r="2.7"/><circle cx="581.3" cy="138.2" r="2.7"/><circle cx="587.6" cy="133.5" r="2.7"/><circle cx="595.8" cy="117.8" r="2.7"/><circle cx="606.4" cy="103.7" r="2.7"/><circle cx="622.4" cy="83" r="2.7"/><circle cx="651.3" cy="71.7" r="2.7"/></g>
<rect x="454.0" y="3.5" width="207.30" height="216.6" fill="none" stroke="#1a1a1a" stroke-width="0.7"/>
<g stroke="#111" stroke-width="0.7"><line x1="525.17" y1="220.1" x2="525.17" y2="223.29999999999998"/><line x1="661.29" y1="220.1" x2="661.29" y2="223.29999999999998"/><line x1="454" y1="220.1" x2="454" y2="221.9"/><line x1="471.01" y1="220.1" x2="471.01" y2="221.9"/><line x1="484.2" y1="220.1" x2="484.2" y2="221.9"/><line x1="494.98" y1="220.1" x2="494.98" y2="221.9"/><line x1="504.09" y1="220.1" x2="504.09" y2="221.9"/><line x1="511.98" y1="220.1" x2="511.98" y2="221.9"/><line x1="518.95" y1="220.1" x2="518.95" y2="221.9"/><line x1="566.15" y1="220.1" x2="566.15" y2="221.9"/><line x1="590.12" y1="220.1" x2="590.12" y2="221.9"/><line x1="607.13" y1="220.1" x2="607.13" y2="221.9"/><line x1="620.32" y1="220.1" x2="620.32" y2="221.9"/><line x1="631.1" y1="220.1" x2="631.1" y2="221.9"/><line x1="640.21" y1="220.1" x2="640.21" y2="221.9"/><line x1="648.1" y1="220.1" x2="648.1" y2="221.9"/><line x1="655.07" y1="220.1" x2="655.07" y2="221.9"/></g>
<text x="525.8" y="235.4" text-anchor="middle">10<tspan font-size="6.4" dy="-3.6">7</tspan></text><text x="662.8" y="235.4" text-anchor="middle">10<tspan font-size="6.4" dy="-3.6">8</tspan></text><text x="558.2" y="249.4" text-anchor="middle"><tspan font-style="italic">N</tspan><tspan font-size="6.4" dy="2">ccn</tspan><tspan dy="-2"> (cm</tspan><tspan font-size="6.4" dy="-3.4">−2</tspan><tspan dy="3.4">)</tspan></text>
<rect x="458.7" y="7.9" width="78.3" height="35.1" fill="#fff" stroke="#111" stroke-width="1"/>
<text font-size="8.3" x="461.3" y="15.6">npoints: 51,427</text><text font-size="8.3" x="461.3" y="26.0"><tspan font-style="italic">S</tspan><tspan font-size="6.2" dy="1.9">full</tspan><tspan dy="-1.9"> = 0.55 ± 0.032</tspan></text><text font-size="8.3" x="461.3" y="37.7"><tspan font-style="italic">S</tspan><tspan font-size="6.2" dy="1.9">opt</tspan><tspan dy="-1.9"> = 0.66 ± 0.03</tspan></text>
<rect x="474.0" y="262.3" width="167.10" height="8.4" fill="url(#vg)" stroke="#111" stroke-width="0.7"/>
<line x1="474" y1="270.7" x2="474" y2="273.2" stroke="#111" stroke-width="0.7"/><text x="474" y="284.1" font-size="8.3" text-anchor="middle">0.00</text><line x1="497.4" y1="270.7" x2="497.4" y2="273.2" stroke="#111" stroke-width="0.7"/><text x="497.4" y="284.1" font-size="8.3" text-anchor="middle">0.01</text><line x1="520.8" y1="270.7" x2="520.8" y2="273.2" stroke="#111" stroke-width="0.7"/><text x="520.8" y="284.1" font-size="8.3" text-anchor="middle">0.02</text><line x1="544.2" y1="270.7" x2="544.2" y2="273.2" stroke="#111" stroke-width="0.7"/><text x="544.2" y="284.1" font-size="8.3" text-anchor="middle">0.03</text><line x1="567.6" y1="270.7" x2="567.6" y2="273.2" stroke="#111" stroke-width="0.7"/><text x="567.6" y="284.1" font-size="8.3" text-anchor="middle">0.04</text><line x1="591" y1="270.7" x2="591" y2="273.2" stroke="#111" stroke-width="0.7"/><text x="591" y="284.1" font-size="8.3" text-anchor="middle">0.05</text><line x1="614.4" y1="270.7" x2="614.4" y2="273.2" stroke="#111" stroke-width="0.7"/><text x="614.4" y="284.1" font-size="8.3" text-anchor="middle">0.06</text><line x1="637.8" y1="270.7" x2="637.8" y2="273.2" stroke="#111" stroke-width="0.7"/><text x="637.8" y="284.1" font-size="8.3" text-anchor="middle">0.07</text>
<line x1="36.7" y1="220.1" x2="39.3" y2="220.1" stroke="#111" stroke-width="0.7"/><text x="34.2" y="223.6" text-anchor="end">30</text><line x1="36.7" y1="193.04" x2="39.3" y2="193.04" stroke="#111" stroke-width="0.7"/><text x="34.2" y="196.54" text-anchor="end">40</text><line x1="36.7" y1="172.05" x2="39.3" y2="172.05" stroke="#111" stroke-width="0.7"/><text x="34.2" y="175.55" text-anchor="end">50</text><line x1="36.7" y1="154.9" x2="39.3" y2="154.9" stroke="#111" stroke-width="0.7"/><text x="34.2" y="158.4" text-anchor="end">60</text><line x1="36.7" y1="140.4" x2="39.3" y2="140.4" stroke="#111" stroke-width="0.7"/><text x="34.2" y="143.9" text-anchor="end">70</text><line x1="36.7" y1="127.84" x2="39.3" y2="127.84" stroke="#111" stroke-width="0.7"/><text x="34.2" y="131.34" text-anchor="end">80</text><line x1="36.7" y1="116.76" x2="39.3" y2="116.76" stroke="#111" stroke-width="0.7"/><text x="34.2" y="120.26" text-anchor="end">90</text><line x1="36.7" y1="106.84" x2="39.3" y2="106.84" stroke="#111" stroke-width="0.7"/><text x="34.2" y="110.34" text-anchor="end">100</text><line x1="36.7" y1="41.64" x2="39.3" y2="41.64" stroke="#111" stroke-width="0.7"/><text x="34.2" y="45.14" text-anchor="end">200</text><line x1="36.7" y1="3.5" x2="39.3" y2="3.5" stroke="#111" stroke-width="0.7"/><text x="34.2" y="7" text-anchor="end">300</text>
<text transform="translate(9.1,115.2) rotate(-90)" text-anchor="middle"><tspan font-style="italic">N</tspan><tspan font-size="6.4" dy="2">d</tspan><tspan dy="-2"> (cm</tspan><tspan font-size="6.4" dy="-3.4">−3</tspan><tspan dy="3.4">)</tspan></text>
</svg>
</body></html>
